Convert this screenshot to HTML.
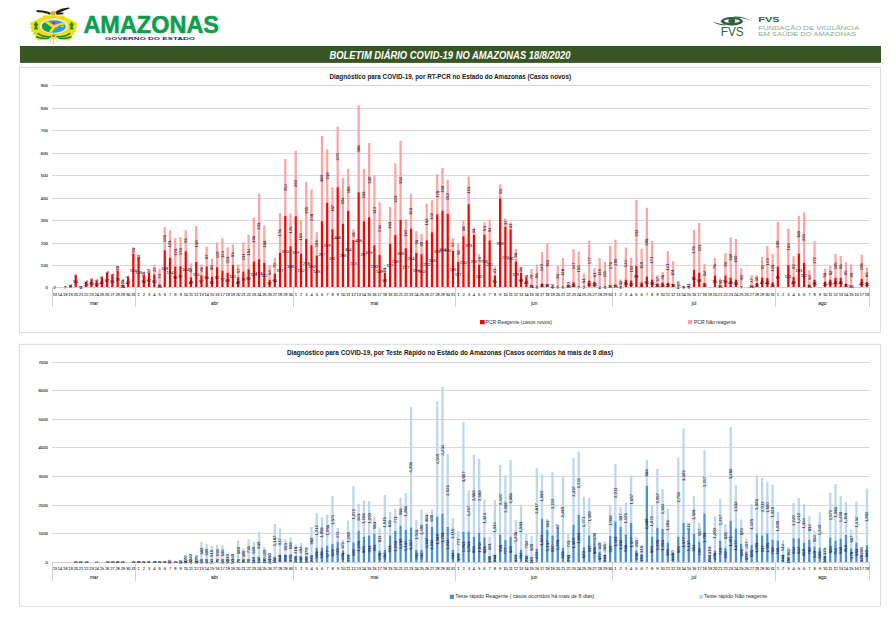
<!DOCTYPE html>
<html><head><meta charset="utf-8"><title>Boletim COVID-19 Amazonas</title>
<style>
html,body{margin:0;padding:0;background:#fff;}
body{width:894px;height:624px;overflow:hidden;position:relative;font-family:"Liberation Sans",sans-serif;}
svg{position:absolute;left:0;top:0;}
text{font-family:"Liberation Sans",sans-serif;}
.ax{font-size:4.3px;fill:#333;stroke:#333;stroke-width:0.12px;}
.dy{font-size:4.2px;fill:#1c1c24;stroke:#1c1c24;stroke-width:0.05px;letter-spacing:-0.25px;}
.dl{font-size:4.2px;fill:#14142a;stroke:#14142a;stroke-width:0.05px;}
.mo{font-size:4.8px;fill:#333;stroke:#333;stroke-width:0.08px;}
.ti{font-size:6.4px;font-weight:bold;fill:#1c1414;}
.lg{font-size:5px;fill:#303030;}
</style></head><body>
<svg width="894" height="624" viewBox="0 0 894 624">
<rect x="0" y="0" width="894" height="624" fill="#fff"/>
<!-- header -->
<g id="crest">
<!-- eagle -->
<path d="M36.4 10.3 C41 9.8 46.8 10.6 51 13 L50 14.8 C46 12.9 41 12.3 36.6 12z" fill="#2a1c0e"/>
<path d="M37.5 11.9 C42 12 46.5 12.8 49.8 14.6 L49.4 15 C46 13.4 41.5 12.6 37.5 12.4z" fill="#c8a02c"/>
<path d="M54.8 12.2 C59 9.2 64 8 69.4 7.6 L69.2 8.8 C65 10 61 11.8 57.4 14.2z" fill="#2a1c0e"/>
<path d="M56 13.2 L63.4 12.6 L63.2 14.2 L56.6 14.8z" fill="#2a1c0e"/>
<path d="M50.6 12.4 C51.6 10.6 54.6 10.4 55.8 12.4 L55.4 15.4 L51 15.4z" fill="#d4b02a"/>
<!-- yellow body -->
<path d="M43.4 15.6 L63.9 15.6 L65.2 17.4 L68.4 18 L69.4 19.6 L72.6 20.2 L73.6 21.4 L75.8 21.8 L77.4 23.9 L76 25.6 L77 27.4 L75.4 29 L76.2 31.4 L73.8 32.4 L74 34.6 L71.6 35.6 L72 38.2 L70 39.4 L67.4 40.8 L64.4 39.6 L61 39.4 L58 38.4 L55 37.6 L52.2 37.6 L49.2 38.4 L46.2 39.4 L42.8 39.6 L39.8 40.8 L37.2 39.4 L35.2 38.2 L35.6 35.6 L33.2 34.6 L33.4 32.4 L31 31.4 L31.8 29 L30.2 27.4 L31.2 25.6 L29.8 23.9 L31.4 21.8 L33.6 21.4 L34.6 20.2 L37.8 19.6 L38.8 18 L42 17.4z" fill="#f3de12"/>
<path d="M50.4 17.4 h5.8 v2.4 h-5.8z" fill="#e2c20a"/>
<path d="M53.6 36.5 L53.6 43.4 M53.3 37 L49.2 42 M53.9 37 L58 42" stroke="#f3de12" stroke-width="1.1" fill="none" stroke-linecap="round"/>
<!-- oval -->
<ellipse cx="53.95" cy="26" rx="14.2" ry="8" fill="#f2e9b0"/>
<ellipse cx="53.8" cy="26.5" rx="11.8" ry="6.2" fill="#3a96dc"/>
<clipPath id="ovc"><ellipse cx="53.8" cy="26.5" rx="11.8" ry="6.2"/></clipPath>
<g clip-path="url(#ovc)">
<path d="M40 18 L45 21 L53 26.6 L50 32 L40 34z" fill="#1b9a48"/>
<path d="M43 21 L45.6 19.8 L54 25.2 C57 23.8 60.5 22.6 65.4 22.4 L65.4 24.4 C61 24.6 58 26 55.2 27.8 L51.4 32.8 L48.8 32 L52 27.4z" fill="#f5e214"/>
<rect x="61" y="25.8" width="2.6" height="1.2" fill="#e3dc78"/>
</g>
<ellipse cx="53.7" cy="22.8" rx="1.8" ry="1.1" fill="#e32028"/>
<!-- side figures -->
<path d="M35 22 h1.8 v1.6 h1.2 v2 h-0.8 v2.2 h0.6 v1.8 h-3.6 v-1.8 h0.6 v-2.2 h-0.8 v-2 h1z" fill="#1f8a3c"/>
<path d="M70.6 22 h1.8 v1.6 h1.2 v2 h-0.8 v2.2 h0.6 v1.8 h-3.6 v-1.8 h0.6 v-2.2 h-0.8 v-2 h1z" fill="#1f8a3c"/>
<!-- laurels -->
<path d="M37.6 32.4 C41 35 46 36.2 51.2 36.2 L51 37.6 C45.5 37.8 40.5 36.6 37 34z" fill="#12883a"/>
<path d="M36.2 35.8 C40 37.6 44.6 38.2 49.4 37.8 L49 39 C44.4 39.6 39.8 39 36 37.2z" fill="#12883a"/>
<path d="M70 32.4 C66.6 35 61.6 36.2 56.4 36.2 L56.6 37.6 C62.1 37.8 67.1 36.6 70.6 34z" fill="#12883a"/>
<path d="M71.4 35.8 C67.6 37.6 63 38.2 58.2 37.8 L58.6 39 C63.2 39.6 67.8 39 71.6 37.2z" fill="#12883a"/>
<path d="M52.2 33.4 h3 v2 h-3z" fill="#e2c20a"/>
<ellipse cx="53.5" cy="36" rx="1.5" ry="0.8" fill="#e32028"/>
</g>

<text x="83.4" y="32.9" font-size="24.6" font-weight="bold" fill="#0b9e4f" stroke="#0b9e4f" stroke-width="0.55" textLength="135.6" lengthAdjust="spacingAndGlyphs">AMAZONAS</text>
<text x="105" y="40.2" font-size="4.3" font-weight="bold" fill="#1d2a6b" textLength="90" lengthAdjust="spacingAndGlyphs">GOVERNO DO ESTADO</text>
<g id="fvs">
<!-- eye -->
<path d="M712.3 21 C715 23.6 719.5 25.3 724.5 25.6 L727 24.6 C721 24.4 716 23.2 712.3 21z" fill="#2d6246"/>
<path d="M733 16.5 C740 16 747 17.6 751.4 21.3 C747.5 19.2 742.5 18 737.5 17.8z" fill="#2d6246"/>
<ellipse cx="731.9" cy="21.2" rx="11" ry="4.3" fill="#2d6246"/>
<path d="M723.8 21 C727 18.4 736.8 18.4 740.2 21 C736.8 23.8 727 23.8 723.8 21z" fill="#fff"/>
<ellipse cx="731.8" cy="21" rx="3.5" ry="2.9" fill="#2d6246"/>
<text x="720.8" y="35.8" font-size="12.2" fill="#2d6246" textLength="22.8" lengthAdjust="spacingAndGlyphs">FVS</text>
<text x="758.3" y="21.8" font-size="7" font-weight="bold" fill="#2d6246" textLength="21.2" lengthAdjust="spacingAndGlyphs">FVS</text>
<text x="758.3" y="29.8" font-size="6.2" fill="#8aa892" textLength="100.8" lengthAdjust="spacingAndGlyphs">FUNDAÇÃO DE VIGILÂNCIA</text>
<text x="758.3" y="36" font-size="6.2" fill="#8aa892" textLength="97.8" lengthAdjust="spacingAndGlyphs">EM SAÚDE DO AMAZONAS</text>
</g>

<rect x="20" y="46" width="861" height="16.9" fill="#375623"/>
<text x="329.5" y="58.6" font-size="10" font-weight="bold" font-style="italic" fill="#fff" textLength="241" lengthAdjust="spacingAndGlyphs">BOLETIM DIÁRIO COVID-19 NO AMAZONAS 18/8/2020</text>
<!-- chart boxes -->
<rect x="19.5" y="67.4" width="861" height="265" fill="#fff" stroke="#d9d9d9" stroke-width="0.9"/>
<rect x="19.5" y="344.3" width="861" height="261.9" fill="#fff" stroke="#d9d9d9" stroke-width="0.9"/>
<text x="329.5" y="78.7" class="ti" textLength="241.5" lengthAdjust="spacingAndGlyphs">Diagnóstico para COVID-19, por RT-PCR no Estado do Amazonas  (Casos novos)</text>
<text x="286.9" y="355.1" class="ti" textLength="326.2" lengthAdjust="spacingAndGlyphs">Diagnóstico para COVID-19, por  Teste Rápido no Estado do Amazonas (Casos ocorridos há mais de 8 dias)</text>
<!-- chart 1 -->
<line x1="52" x2="869.54" y1="265.5" y2="265.5" stroke="#d9d9d9" stroke-width="1"/>
<line x1="52" x2="869.54" y1="243.5" y2="243.5" stroke="#d9d9d9" stroke-width="1"/>
<line x1="52" x2="869.54" y1="220.5" y2="220.5" stroke="#d9d9d9" stroke-width="1"/>
<line x1="52" x2="869.54" y1="198.5" y2="198.5" stroke="#d9d9d9" stroke-width="1"/>
<line x1="52" x2="869.54" y1="175.5" y2="175.5" stroke="#d9d9d9" stroke-width="1"/>
<line x1="52" x2="869.54" y1="153.5" y2="153.5" stroke="#d9d9d9" stroke-width="1"/>
<line x1="52" x2="869.54" y1="130.5" y2="130.5" stroke="#d9d9d9" stroke-width="1"/>
<line x1="52" x2="869.54" y1="108.5" y2="108.5" stroke="#d9d9d9" stroke-width="1"/>
<line x1="52" x2="869.54" y1="85.5" y2="85.5" stroke="#d9d9d9" stroke-width="1"/>
<text x="48" y="288.75" text-anchor="end" class="ax">0</text>
<text x="48" y="266.75" text-anchor="end" class="ax">100</text>
<text x="48" y="244.75" text-anchor="end" class="ax">200</text>
<text x="48" y="221.75" text-anchor="end" class="ax">300</text>
<text x="48" y="199.75" text-anchor="end" class="ax">400</text>
<text x="48" y="176.75" text-anchor="end" class="ax">500</text>
<text x="48" y="154.75" text-anchor="end" class="ax">600</text>
<text x="48" y="131.75" text-anchor="end" class="ax">700</text>
<text x="48" y="109.75" text-anchor="end" class="ax">800</text>
<text x="48" y="86.75" text-anchor="end" class="ax">900</text>
<path d="M69.31 285.26h2.25v0.67h-2.25zM74.56 274.93h2.25v0.9h-2.25zM79.8 286.84h2.25v0.22h-2.25zM85.03 281h2.25v1.12h-2.25zM90.28 278.98h2.25v0.9h-2.25zM95.52 279.87h2.25v1.35h-2.25zM100.75 276.73h2.25v1.12h-2.25zM106 272.24h2.25v0.67h-2.25zM111.24 274.03h2.25v1.35h-2.25zM116.47 265.95h2.25v4.49h-2.25zM121.72 278.98h2.25v5.84h-2.25zM126.96 276.28h2.25v1.12h-2.25zM132.19 247.31h2.25v6.29h-2.25zM137.44 255.39h2.25v2.7h-2.25zM142.68 272.24h2.25v3.59h-2.25zM147.91 269.09h2.25v3.82h-2.25zM153.16 265.05h2.25v9.43h-2.25zM158.4 268.64h2.25v15.72h-2.25zM163.64 227.09h2.25v23.13h-2.25zM168.88 230.24h2.25v27.63h-2.25zM174.12 238.1h2.25v28.3h-2.25zM179.35 237.2h2.25v28.97h-2.25zM184.59 230.24h2.25v20.89h-2.25zM189.84 263.25h2.25v13.93h-2.25zM195.07 225.97h2.25v35.94h-2.25zM200.31 264.38h2.25v10.78h-2.25zM205.56 246.86h2.25v19.54h-2.25zM210.79 258.76h2.25v17.97h-2.25zM216.03 242.59h2.25v24.71h-2.25zM221.28 238.32h2.25v32.34h-2.25zM226.52 247.31h2.25v25.38h-2.25zM231.75 244.39h2.25v20.89h-2.25zM237 264.38h2.25v12.8h-2.25zM242.24 242.14h2.25v29.42h-2.25zM247.47 234.73h2.25v34.59h-2.25zM252.72 217.44h2.25v44.02h-2.25zM257.96 193.4h2.25v65.81h-2.25zM263.19 225.52h2.25v37.28h-2.25zM268.44 265.28h2.25v14.37h-2.25zM273.68 257.86h2.25v15.72h-2.25zM278.92 213.17h2.25v39.53h-2.25zM284.16 159.04h2.25v57.05h-2.25zM289.4 213.62h2.25v32.57h-2.25zM294.63 150.73h2.25v65.58h-2.25zM299.88 220.13h2.25v33.69h-2.25zM305.12 181.72h2.25v57.27h-2.25zM310.36 189.59h2.25v55.7h-2.25zM315.6 232.26h2.25v23.13h-2.25zM320.84 135.91h2.25v85.35h-2.25zM326.08 149.16h2.25v53.68h-2.25zM331.32 187.34h2.25v42h-2.25zM336.56 126.7h2.25v60.64h-2.25zM341.8 177.91h2.25v45.82h-2.25zM347.04 168.92h2.25v41.78h-2.25zM352.28 229.34h2.25v10.78h-2.25zM357.52 105.58h2.25v86.7h-2.25zM362.76 168.92h2.25v52.33h-2.25zM368 143.09h2.25v74.12h-2.25zM373.24 175.21h2.25v70.08h-2.25zM378.48 202.16h2.25v52.56h-2.25zM383.72 267.52h2.25v5.17h-2.25zM388.96 207.1h2.25v36.61h-2.25zM394.2 163.31h2.25v71.65h-2.25zM399.44 140.85h2.25v79.06h-2.25zM404.68 219.01h2.25v29.2h-2.25zM409.92 194.3h2.25v34.36h-2.25zM415.16 231.36h2.25v21.56h-2.25zM420.4 234.06h2.25v20.21h-2.25zM425.64 203.51h2.25v36.83h-2.25zM430.88 200.37h2.25v31.89h-2.25zM436.12 174.31h2.25v39.98h-2.25zM441.36 168.02h2.25v42.67h-2.25zM446.6 179.7h2.25v34.14h-2.25zM451.84 238.1h2.25v12.8h-2.25zM457.08 243.26h2.25v18.42h-2.25zM462.32 221.03h2.25v15.27h-2.25zM467.56 176.56h2.25v27.63h-2.25zM472.8 227.54h2.25v7.41h-2.25zM478.04 254.05h2.25v11.01h-2.25zM483.28 222.6h2.25v11.9h-2.25zM488.52 219.46h2.25v21.11h-2.25zM493.76 266.4h2.25v9.21h-2.25zM499 184.42h2.25v14.15h-2.25zM504.24 218.56h2.25v8.31h-2.25zM509.48 222.38h2.25v6.96h-2.25zM514.72 248.88h2.25v12.58h-2.25zM519.96 266.85h2.25v5.84h-2.25zM525.2 275.38h2.25v1.8h-2.25zM530.44 269.09h2.25v15.72h-2.25zM535.68 265.05h2.25v21.56h-2.25zM540.91 252.02h2.25v31.44h-2.25zM546.15 243.04h2.25v41.1h-2.25zM551.39 284.59h2.25v3.14h-2.25zM556.63 265.95h2.25v20.89h-2.25zM561.88 258.09h2.25v28.75h-2.25zM567.12 283.47h2.25v2.25h-2.25zM572.36 249.33h2.25v33.02h-2.25zM577.6 251.57h2.25v34.81h-2.25zM582.84 273.81h2.25v13.7h-2.25zM588.08 240.79h2.25v39.75h-2.25zM593.32 267.97h2.25v13.7h-2.25zM598.56 258.09h2.25v28.97h-2.25zM603.8 261.68h2.25v24.93h-2.25zM609.04 245.96h2.25v39.53h-2.25zM614.28 239.67h2.25v44.92h-2.25zM619.52 279.43h2.25v7.19h-2.25zM624.75 247.53h2.25v32.34h-2.25zM630 257.64h2.25v22.91h-2.25zM635.24 199.92h2.25v66.03h-2.25zM640.48 248.65h2.25v33.69h-2.25zM645.72 207.78h2.25v68.73h-2.25zM650.96 241.02h2.25v38.41h-2.25zM656.2 275.16h2.25v8.31h-2.25zM661.44 272.01h2.25v10.33h-2.25zM666.68 251.13h2.25v31.67h-2.25zM671.92 261.23h2.25v22.68h-2.25zM677.16 281h2.25v6.06h-2.25zM682.4 286.39h2.25v0.9h-2.25zM687.64 284.37h2.25v2.47h-2.25zM692.88 229.79h2.25v40.2h-2.25zM698.12 223.05h2.25v49.64h-2.25zM703.36 263.93h2.25v18.87h-2.25zM713.84 258.09h2.25v17.52h-2.25zM719.08 278.75h2.25v6.74h-2.25zM724.32 253.37h2.25v22.24h-2.25zM729.56 237.2h2.25v40.43h-2.25zM734.8 239h2.25v40.43h-2.25zM740.04 268.42h2.25v17.97h-2.25zM750.52 275.16h2.25v10.56h-2.25zM755.75 275.16h2.25v7.86h-2.25zM761 256.97h2.25v20.44h-2.25zM766.24 245.96h2.25v32.12h-2.25zM771.48 254.05h2.25v28.3h-2.25zM776.72 221.7h2.25v44.92h-2.25zM787.2 228.67h2.25v36.61h-2.25zM792.44 256.29h2.25v20.66h-2.25zM797.68 215.64h2.25v37.96h-2.25zM802.92 212.27h2.25v50.54h-2.25zM808.16 270.22h2.25v14.37h-2.25zM813.4 241.24h2.25v38.63h-2.25zM823.88 268.87h2.25v12.58h-2.25zM829.12 265.95h2.25v13.93h-2.25zM834.36 254.05h2.25v23.58h-2.25zM839.6 256.07h2.25v21.56h-2.25zM844.84 262.13h2.25v21.34h-2.25zM850.08 264.38h2.25v21.34h-2.25zM860.56 254.72h2.25v24.26h-2.25zM865.8 267.52h2.25v14.6h-2.25z" fill="#ffa3a3"/>
<path d="M53.59 287.51h2.25v0.45h-2.25zM64.08 286.39h2.25v1.57h-2.25zM69.31 285.94h2.25v2.02h-2.25zM74.56 275.83h2.25v12.13h-2.25zM79.8 287.06h2.25v0.9h-2.25zM85.03 282.12h2.25v5.84h-2.25zM90.28 279.87h2.25v8.09h-2.25zM95.52 281.22h2.25v6.74h-2.25zM100.75 277.85h2.25v10.11h-2.25zM106 272.91h2.25v15.05h-2.25zM111.24 275.38h2.25v12.58h-2.25zM116.47 270.44h2.25v17.52h-2.25zM121.72 284.82h2.25v3.14h-2.25zM126.96 277.4h2.25v10.56h-2.25zM132.19 253.6h2.25v34.36h-2.25zM137.44 258.09h2.25v29.87h-2.25zM142.68 275.83h2.25v12.13h-2.25zM147.91 272.91h2.25v15.05h-2.25zM153.16 274.48h2.25v13.48h-2.25zM158.4 284.37h2.25v3.59h-2.25zM163.64 250.23h2.25v37.73h-2.25zM168.88 257.86h2.25v30.1h-2.25zM174.12 266.4h2.25v21.56h-2.25zM179.35 266.17h2.25v21.79h-2.25zM184.59 251.13h2.25v36.83h-2.25zM189.84 277.18h2.25v10.78h-2.25zM195.07 261.91h2.25v26.05h-2.25zM200.31 275.16h2.25v12.8h-2.25zM205.56 266.4h2.25v21.56h-2.25zM210.79 276.73h2.25v11.23h-2.25zM216.03 267.3h2.25v20.66h-2.25zM221.28 270.67h2.25v17.29h-2.25zM226.52 272.69h2.25v15.27h-2.25zM231.75 265.28h2.25v22.68h-2.25zM237 277.18h2.25v10.78h-2.25zM242.24 271.56h2.25v16.4h-2.25zM247.47 269.32h2.25v18.64h-2.25zM252.72 261.46h2.25v26.5h-2.25zM257.96 259.21h2.25v28.75h-2.25zM263.19 262.8h2.25v25.16h-2.25zM268.44 279.65h2.25v8.31h-2.25zM273.68 273.59h2.25v14.37h-2.25zM278.92 252.7h2.25v35.26h-2.25zM284.16 216.09h2.25v71.87h-2.25zM289.4 246.18h2.25v41.78h-2.25zM294.63 216.31h2.25v71.65h-2.25zM299.88 253.82h2.25v34.14h-2.25zM305.12 239h2.25v48.96h-2.25zM310.36 245.29h2.25v42.67h-2.25zM315.6 255.39h2.25v32.57h-2.25zM320.84 221.25h2.25v66.71h-2.25zM326.08 202.84h2.25v85.12h-2.25zM331.32 229.34h2.25v58.62h-2.25zM336.56 187.34h2.25v100.62h-2.25zM341.8 223.72h2.25v64.24h-2.25zM347.04 210.7h2.25v77.26h-2.25zM352.28 240.12h2.25v47.84h-2.25zM357.52 192.28h2.25v95.68h-2.25zM362.76 221.25h2.25v66.71h-2.25zM368 217.21h2.25v70.75h-2.25zM373.24 245.29h2.25v42.67h-2.25zM378.48 254.72h2.25v33.24h-2.25zM383.72 272.69h2.25v15.27h-2.25zM388.96 243.71h2.25v44.25h-2.25zM394.2 234.95h2.25v53.01h-2.25zM399.44 219.91h2.25v68.05h-2.25zM404.68 248.21h2.25v39.75h-2.25zM409.92 228.67h2.25v59.29h-2.25zM415.16 252.92h2.25v35.04h-2.25zM420.4 254.27h2.25v33.69h-2.25zM425.64 240.34h2.25v47.62h-2.25zM430.88 232.26h2.25v55.7h-2.25zM436.12 214.29h2.25v73.67h-2.25zM441.36 210.7h2.25v77.26h-2.25zM446.6 213.84h2.25v74.12h-2.25zM451.84 250.9h2.25v37.06h-2.25zM457.08 261.68h2.25v26.28h-2.25zM462.32 236.3h2.25v51.66h-2.25zM467.56 204.18h2.25v83.78h-2.25zM472.8 234.95h2.25v53.01h-2.25zM478.04 265.05h2.25v22.91h-2.25zM483.28 234.51h2.25v53.45h-2.25zM488.52 240.57h2.25v47.39h-2.25zM493.76 275.61h2.25v12.35h-2.25zM499 198.57h2.25v89.39h-2.25zM504.24 226.87h2.25v61.09h-2.25zM509.48 229.34h2.25v58.62h-2.25zM514.72 261.46h2.25v26.5h-2.25zM519.96 272.69h2.25v15.27h-2.25zM525.2 277.18h2.25v10.78h-2.25zM530.44 284.82h2.25v3.14h-2.25zM535.68 286.61h2.25v1.35h-2.25zM540.91 283.47h2.25v4.49h-2.25zM546.15 284.14h2.25v3.82h-2.25zM551.39 287.74h2.25v0.22h-2.25zM556.63 286.84h2.25v1.12h-2.25zM561.88 286.84h2.25v1.12h-2.25zM567.12 285.71h2.25v2.25h-2.25zM572.36 282.34h2.25v5.62h-2.25zM577.6 286.39h2.25v1.57h-2.25zM582.84 287.51h2.25v0.45h-2.25zM588.08 280.55h2.25v7.41h-2.25zM593.32 281.67h2.25v6.29h-2.25zM598.56 287.06h2.25v0.9h-2.25zM603.8 286.61h2.25v1.35h-2.25zM609.04 285.49h2.25v2.47h-2.25zM614.28 284.59h2.25v3.37h-2.25zM619.52 286.61h2.25v1.35h-2.25zM624.75 279.87h2.25v8.09h-2.25zM630 280.55h2.25v7.41h-2.25zM635.24 265.95h2.25v22.01h-2.25zM640.48 282.34h2.25v5.62h-2.25zM645.72 276.51h2.25v11.45h-2.25zM650.96 279.43h2.25v8.53h-2.25zM656.2 283.47h2.25v4.49h-2.25zM661.44 282.34h2.25v5.62h-2.25zM666.68 282.79h2.25v5.17h-2.25zM671.92 283.92h2.25v4.04h-2.25zM677.16 287.06h2.25v0.9h-2.25zM682.4 287.29h2.25v0.67h-2.25zM687.64 286.84h2.25v1.12h-2.25zM692.88 269.99h2.25v17.97h-2.25zM698.12 272.69h2.25v15.27h-2.25zM703.36 282.79h2.25v5.17h-2.25zM713.84 275.61h2.25v12.35h-2.25zM719.08 285.49h2.25v2.47h-2.25zM724.32 275.61h2.25v12.35h-2.25zM729.56 277.63h2.25v10.33h-2.25zM734.8 279.43h2.25v8.53h-2.25zM740.04 286.39h2.25v1.57h-2.25zM750.52 285.71h2.25v2.25h-2.25zM755.75 283.02h2.25v4.94h-2.25zM761 277.4h2.25v10.56h-2.25zM766.24 278.08h2.25v9.88h-2.25zM771.48 282.34h2.25v5.62h-2.25zM776.72 266.62h2.25v21.34h-2.25zM787.2 265.28h2.25v22.68h-2.25zM792.44 276.95h2.25v11.01h-2.25zM797.68 253.6h2.25v34.36h-2.25zM802.92 262.8h2.25v25.16h-2.25zM808.16 284.59h2.25v3.37h-2.25zM813.4 279.87h2.25v8.09h-2.25zM823.88 281.45h2.25v6.51h-2.25zM829.12 279.87h2.25v8.09h-2.25zM834.36 277.63h2.25v10.33h-2.25zM839.6 277.63h2.25v10.33h-2.25zM844.84 283.47h2.25v4.49h-2.25zM850.08 285.71h2.25v2.25h-2.25zM860.56 278.98h2.25v8.98h-2.25zM865.8 282.12h2.25v5.84h-2.25z" fill="#ff0000"/>
<line x1="52" x2="869.54" y1="287.5" y2="287.5" stroke="#d0d0d0" stroke-width="1"/>
<text x="94.02" y="304.8" text-anchor="middle" class="mo">mar</text>
<text x="214.54" y="304.8" text-anchor="middle" class="mo">abr</text>
<text x="374.36" y="304.8" text-anchor="middle" class="mo">mai</text>
<text x="534.18" y="304.8" text-anchor="middle" class="mo">jun</text>
<text x="694" y="304.8" text-anchor="middle" class="mo">jul</text>
<text x="822.38" y="304.8" text-anchor="middle" class="mo">ago</text>
<line x1="52.5" x2="52.5" y1="287.5" y2="306.9" stroke="#d0d0d0" stroke-width="1"/>
<line x1="135.5" x2="135.5" y1="287.5" y2="306.9" stroke="#d0d0d0" stroke-width="1"/>
<line x1="293.5" x2="293.5" y1="287.5" y2="306.9" stroke="#d0d0d0" stroke-width="1"/>
<line x1="455.5" x2="455.5" y1="287.5" y2="306.9" stroke="#d0d0d0" stroke-width="1"/>
<line x1="612.5" x2="612.5" y1="287.5" y2="306.9" stroke="#d0d0d0" stroke-width="1"/>
<line x1="775.5" x2="775.5" y1="287.5" y2="306.9" stroke="#d0d0d0" stroke-width="1"/>
<line x1="869.5" x2="869.5" y1="287.5" y2="306.9" stroke="#d0d0d0" stroke-width="1"/>
<text x="54.72" y="295.65" text-anchor="middle" class="dy">13</text>
<text x="59.96" y="295.65" text-anchor="middle" class="dy">14</text>
<text x="65.2" y="295.65" text-anchor="middle" class="dy">18</text>
<text x="70.44" y="295.65" text-anchor="middle" class="dy">19</text>
<text x="75.68" y="295.65" text-anchor="middle" class="dy">20</text>
<text x="80.92" y="295.65" text-anchor="middle" class="dy">21</text>
<text x="86.16" y="295.65" text-anchor="middle" class="dy">22</text>
<text x="91.4" y="295.65" text-anchor="middle" class="dy">23</text>
<text x="96.64" y="295.65" text-anchor="middle" class="dy">24</text>
<text x="101.88" y="295.65" text-anchor="middle" class="dy">25</text>
<text x="107.12" y="295.65" text-anchor="middle" class="dy">26</text>
<text x="112.36" y="295.65" text-anchor="middle" class="dy">27</text>
<text x="117.6" y="295.65" text-anchor="middle" class="dy">28</text>
<text x="122.84" y="295.65" text-anchor="middle" class="dy">29</text>
<text x="128.08" y="295.65" text-anchor="middle" class="dy">30</text>
<text x="133.32" y="295.65" text-anchor="middle" class="dy">31</text>
<text x="138.56" y="295.65" text-anchor="middle" class="dy">1</text>
<text x="143.8" y="295.65" text-anchor="middle" class="dy">2</text>
<text x="149.04" y="295.65" text-anchor="middle" class="dy">3</text>
<text x="154.28" y="295.65" text-anchor="middle" class="dy">4</text>
<text x="159.52" y="295.65" text-anchor="middle" class="dy">5</text>
<text x="164.76" y="295.65" text-anchor="middle" class="dy">6</text>
<text x="170" y="295.65" text-anchor="middle" class="dy">7</text>
<text x="175.24" y="295.65" text-anchor="middle" class="dy">8</text>
<text x="180.48" y="295.65" text-anchor="middle" class="dy">9</text>
<text x="185.72" y="295.65" text-anchor="middle" class="dy">10</text>
<text x="190.96" y="295.65" text-anchor="middle" class="dy">11</text>
<text x="196.2" y="295.65" text-anchor="middle" class="dy">12</text>
<text x="201.44" y="295.65" text-anchor="middle" class="dy">13</text>
<text x="206.68" y="295.65" text-anchor="middle" class="dy">14</text>
<text x="211.92" y="295.65" text-anchor="middle" class="dy">15</text>
<text x="217.16" y="295.65" text-anchor="middle" class="dy">16</text>
<text x="222.4" y="295.65" text-anchor="middle" class="dy">17</text>
<text x="227.64" y="295.65" text-anchor="middle" class="dy">18</text>
<text x="232.88" y="295.65" text-anchor="middle" class="dy">19</text>
<text x="238.12" y="295.65" text-anchor="middle" class="dy">20</text>
<text x="243.36" y="295.65" text-anchor="middle" class="dy">21</text>
<text x="248.6" y="295.65" text-anchor="middle" class="dy">22</text>
<text x="253.84" y="295.65" text-anchor="middle" class="dy">23</text>
<text x="259.08" y="295.65" text-anchor="middle" class="dy">24</text>
<text x="264.32" y="295.65" text-anchor="middle" class="dy">25</text>
<text x="269.56" y="295.65" text-anchor="middle" class="dy">26</text>
<text x="274.8" y="295.65" text-anchor="middle" class="dy">27</text>
<text x="280.04" y="295.65" text-anchor="middle" class="dy">28</text>
<text x="285.28" y="295.65" text-anchor="middle" class="dy">29</text>
<text x="290.52" y="295.65" text-anchor="middle" class="dy">30</text>
<text x="295.76" y="295.65" text-anchor="middle" class="dy">1</text>
<text x="301" y="295.65" text-anchor="middle" class="dy">2</text>
<text x="306.24" y="295.65" text-anchor="middle" class="dy">3</text>
<text x="311.48" y="295.65" text-anchor="middle" class="dy">4</text>
<text x="316.72" y="295.65" text-anchor="middle" class="dy">5</text>
<text x="321.96" y="295.65" text-anchor="middle" class="dy">6</text>
<text x="327.2" y="295.65" text-anchor="middle" class="dy">7</text>
<text x="332.44" y="295.65" text-anchor="middle" class="dy">8</text>
<text x="337.68" y="295.65" text-anchor="middle" class="dy">9</text>
<text x="342.92" y="295.65" text-anchor="middle" class="dy">10</text>
<text x="348.16" y="295.65" text-anchor="middle" class="dy">11</text>
<text x="353.4" y="295.65" text-anchor="middle" class="dy">12</text>
<text x="358.64" y="295.65" text-anchor="middle" class="dy">13</text>
<text x="363.88" y="295.65" text-anchor="middle" class="dy">14</text>
<text x="369.12" y="295.65" text-anchor="middle" class="dy">15</text>
<text x="374.36" y="295.65" text-anchor="middle" class="dy">16</text>
<text x="379.6" y="295.65" text-anchor="middle" class="dy">17</text>
<text x="384.84" y="295.65" text-anchor="middle" class="dy">18</text>
<text x="390.08" y="295.65" text-anchor="middle" class="dy">19</text>
<text x="395.32" y="295.65" text-anchor="middle" class="dy">20</text>
<text x="400.56" y="295.65" text-anchor="middle" class="dy">21</text>
<text x="405.8" y="295.65" text-anchor="middle" class="dy">22</text>
<text x="411.04" y="295.65" text-anchor="middle" class="dy">23</text>
<text x="416.28" y="295.65" text-anchor="middle" class="dy">24</text>
<text x="421.52" y="295.65" text-anchor="middle" class="dy">25</text>
<text x="426.76" y="295.65" text-anchor="middle" class="dy">26</text>
<text x="432" y="295.65" text-anchor="middle" class="dy">27</text>
<text x="437.24" y="295.65" text-anchor="middle" class="dy">28</text>
<text x="442.48" y="295.65" text-anchor="middle" class="dy">29</text>
<text x="447.72" y="295.65" text-anchor="middle" class="dy">30</text>
<text x="452.96" y="295.65" text-anchor="middle" class="dy">31</text>
<text x="458.2" y="295.65" text-anchor="middle" class="dy">1</text>
<text x="463.44" y="295.65" text-anchor="middle" class="dy">2</text>
<text x="468.68" y="295.65" text-anchor="middle" class="dy">3</text>
<text x="473.92" y="295.65" text-anchor="middle" class="dy">4</text>
<text x="479.16" y="295.65" text-anchor="middle" class="dy">5</text>
<text x="484.4" y="295.65" text-anchor="middle" class="dy">6</text>
<text x="489.64" y="295.65" text-anchor="middle" class="dy">7</text>
<text x="494.88" y="295.65" text-anchor="middle" class="dy">8</text>
<text x="500.12" y="295.65" text-anchor="middle" class="dy">9</text>
<text x="505.36" y="295.65" text-anchor="middle" class="dy">10</text>
<text x="510.6" y="295.65" text-anchor="middle" class="dy">11</text>
<text x="515.84" y="295.65" text-anchor="middle" class="dy">12</text>
<text x="521.08" y="295.65" text-anchor="middle" class="dy">13</text>
<text x="526.32" y="295.65" text-anchor="middle" class="dy">14</text>
<text x="531.56" y="295.65" text-anchor="middle" class="dy">15</text>
<text x="536.8" y="295.65" text-anchor="middle" class="dy">16</text>
<text x="542.04" y="295.65" text-anchor="middle" class="dy">17</text>
<text x="547.28" y="295.65" text-anchor="middle" class="dy">18</text>
<text x="552.52" y="295.65" text-anchor="middle" class="dy">19</text>
<text x="557.76" y="295.65" text-anchor="middle" class="dy">20</text>
<text x="563" y="295.65" text-anchor="middle" class="dy">21</text>
<text x="568.24" y="295.65" text-anchor="middle" class="dy">22</text>
<text x="573.48" y="295.65" text-anchor="middle" class="dy">23</text>
<text x="578.72" y="295.65" text-anchor="middle" class="dy">24</text>
<text x="583.96" y="295.65" text-anchor="middle" class="dy">25</text>
<text x="589.2" y="295.65" text-anchor="middle" class="dy">26</text>
<text x="594.44" y="295.65" text-anchor="middle" class="dy">27</text>
<text x="599.68" y="295.65" text-anchor="middle" class="dy">28</text>
<text x="604.92" y="295.65" text-anchor="middle" class="dy">29</text>
<text x="610.16" y="295.65" text-anchor="middle" class="dy">30</text>
<text x="615.4" y="295.65" text-anchor="middle" class="dy">1</text>
<text x="620.64" y="295.65" text-anchor="middle" class="dy">2</text>
<text x="625.88" y="295.65" text-anchor="middle" class="dy">3</text>
<text x="631.12" y="295.65" text-anchor="middle" class="dy">4</text>
<text x="636.36" y="295.65" text-anchor="middle" class="dy">5</text>
<text x="641.6" y="295.65" text-anchor="middle" class="dy">6</text>
<text x="646.84" y="295.65" text-anchor="middle" class="dy">7</text>
<text x="652.08" y="295.65" text-anchor="middle" class="dy">8</text>
<text x="657.32" y="295.65" text-anchor="middle" class="dy">9</text>
<text x="662.56" y="295.65" text-anchor="middle" class="dy">10</text>
<text x="667.8" y="295.65" text-anchor="middle" class="dy">11</text>
<text x="673.04" y="295.65" text-anchor="middle" class="dy">12</text>
<text x="678.28" y="295.65" text-anchor="middle" class="dy">13</text>
<text x="683.52" y="295.65" text-anchor="middle" class="dy">14</text>
<text x="688.76" y="295.65" text-anchor="middle" class="dy">15</text>
<text x="694" y="295.65" text-anchor="middle" class="dy">16</text>
<text x="699.24" y="295.65" text-anchor="middle" class="dy">17</text>
<text x="704.48" y="295.65" text-anchor="middle" class="dy">18</text>
<text x="709.72" y="295.65" text-anchor="middle" class="dy">19</text>
<text x="714.96" y="295.65" text-anchor="middle" class="dy">20</text>
<text x="720.2" y="295.65" text-anchor="middle" class="dy">21</text>
<text x="725.44" y="295.65" text-anchor="middle" class="dy">22</text>
<text x="730.68" y="295.65" text-anchor="middle" class="dy">23</text>
<text x="735.92" y="295.65" text-anchor="middle" class="dy">24</text>
<text x="741.16" y="295.65" text-anchor="middle" class="dy">25</text>
<text x="746.4" y="295.65" text-anchor="middle" class="dy">26</text>
<text x="751.64" y="295.65" text-anchor="middle" class="dy">27</text>
<text x="756.88" y="295.65" text-anchor="middle" class="dy">28</text>
<text x="762.12" y="295.65" text-anchor="middle" class="dy">29</text>
<text x="767.36" y="295.65" text-anchor="middle" class="dy">30</text>
<text x="772.6" y="295.65" text-anchor="middle" class="dy">31</text>
<text x="777.84" y="295.65" text-anchor="middle" class="dy">1</text>
<text x="783.08" y="295.65" text-anchor="middle" class="dy">2</text>
<text x="788.32" y="295.65" text-anchor="middle" class="dy">3</text>
<text x="793.56" y="295.65" text-anchor="middle" class="dy">4</text>
<text x="798.8" y="295.65" text-anchor="middle" class="dy">5</text>
<text x="804.04" y="295.65" text-anchor="middle" class="dy">6</text>
<text x="809.28" y="295.65" text-anchor="middle" class="dy">7</text>
<text x="814.52" y="295.65" text-anchor="middle" class="dy">8</text>
<text x="819.76" y="295.65" text-anchor="middle" class="dy">9</text>
<text x="825" y="295.65" text-anchor="middle" class="dy">10</text>
<text x="830.24" y="295.65" text-anchor="middle" class="dy">11</text>
<text x="835.48" y="295.65" text-anchor="middle" class="dy">12</text>
<text x="840.72" y="295.65" text-anchor="middle" class="dy">13</text>
<text x="845.96" y="295.65" text-anchor="middle" class="dy">14</text>
<text x="851.2" y="295.65" text-anchor="middle" class="dy">15</text>
<text x="856.44" y="295.65" text-anchor="middle" class="dy">16</text>
<text x="861.68" y="295.65" text-anchor="middle" class="dy">17</text>
<text x="866.92" y="295.65" text-anchor="middle" class="dy">18</text>
<text x="54.72" y="289.14" text-anchor="middle" class="dl">2</text>
<text x="65.2" y="288.57" text-anchor="middle" class="dl">7</text>
<text x="70.44" y="288.35" text-anchor="middle" class="dl">9</text>
<text transform="translate(71.84 285.6) rotate(-90)" text-anchor="middle" class="dl">3</text>
<text x="75.68" y="283.3" text-anchor="middle" class="dl">54</text>
<text transform="translate(77.08 275.38) rotate(-90)" text-anchor="middle" class="dl">4</text>
<text x="80.92" y="288.91" text-anchor="middle" class="dl">4</text>
<text transform="translate(82.32 286.95) rotate(-90)" text-anchor="middle" class="dl">1</text>
<text x="86.16" y="286.44" text-anchor="middle" class="dl">26</text>
<text transform="translate(87.56 281.56) rotate(-90)" text-anchor="middle" class="dl">5</text>
<text x="91.4" y="285.32" text-anchor="middle" class="dl">36</text>
<text transform="translate(92.8 279.43) rotate(-90)" text-anchor="middle" class="dl">4</text>
<text x="96.64" y="285.99" text-anchor="middle" class="dl">30</text>
<text transform="translate(98.04 280.55) rotate(-90)" text-anchor="middle" class="dl">6</text>
<text x="101.88" y="284.31" text-anchor="middle" class="dl">45</text>
<text transform="translate(103.28 277.29) rotate(-90)" text-anchor="middle" class="dl">5</text>
<text x="107.12" y="281.84" text-anchor="middle" class="dl">67</text>
<text transform="translate(108.52 272.57) rotate(-90)" text-anchor="middle" class="dl">3</text>
<text x="112.36" y="283.07" text-anchor="middle" class="dl">56</text>
<text transform="translate(113.76 274.71) rotate(-90)" text-anchor="middle" class="dl">6</text>
<text x="117.6" y="280.6" text-anchor="middle" class="dl">78</text>
<text transform="translate(119 268.2) rotate(-90)" text-anchor="middle" class="dl">20</text>
<text x="122.84" y="287.79" text-anchor="middle" class="dl">14</text>
<text transform="translate(124.24 281.9) rotate(-90)" text-anchor="middle" class="dl">26</text>
<text x="128.08" y="284.08" text-anchor="middle" class="dl">47</text>
<text transform="translate(129.48 276.84) rotate(-90)" text-anchor="middle" class="dl">5</text>
<text x="133.32" y="272.18" text-anchor="middle" class="dl">153</text>
<text transform="translate(134.72 250.45) rotate(-90)" text-anchor="middle" class="dl">28</text>
<text x="138.56" y="274.42" text-anchor="middle" class="dl">133</text>
<text transform="translate(139.96 256.74) rotate(-90)" text-anchor="middle" class="dl">12</text>
<text x="143.8" y="283.3" text-anchor="middle" class="dl">54</text>
<text transform="translate(145.2 274.03) rotate(-90)" text-anchor="middle" class="dl">16</text>
<text x="149.04" y="281.84" text-anchor="middle" class="dl">67</text>
<text transform="translate(150.44 271) rotate(-90)" text-anchor="middle" class="dl">17</text>
<text x="154.28" y="282.62" text-anchor="middle" class="dl">60</text>
<text transform="translate(155.68 269.77) rotate(-90)" text-anchor="middle" class="dl">42</text>
<text x="159.52" y="287.56" text-anchor="middle" class="dl">16</text>
<text transform="translate(160.92 276.51) rotate(-90)" text-anchor="middle" class="dl">70</text>
<text x="164.76" y="270.49" text-anchor="middle" class="dl">168</text>
<text transform="translate(166.16 238.66) rotate(-90)" text-anchor="middle" class="dl">103</text>
<text x="170" y="274.31" text-anchor="middle" class="dl">134</text>
<text transform="translate(171.4 244.05) rotate(-90)" text-anchor="middle" class="dl">123</text>
<text x="175.24" y="278.58" text-anchor="middle" class="dl">96</text>
<text transform="translate(176.64 252.25) rotate(-90)" text-anchor="middle" class="dl">126</text>
<text x="180.48" y="278.47" text-anchor="middle" class="dl">97</text>
<text transform="translate(181.88 251.69) rotate(-90)" text-anchor="middle" class="dl">129</text>
<text x="185.72" y="270.94" text-anchor="middle" class="dl">164</text>
<text transform="translate(187.12 240.68) rotate(-90)" text-anchor="middle" class="dl">93</text>
<text x="190.96" y="283.97" text-anchor="middle" class="dl">48</text>
<text transform="translate(192.36 270.22) rotate(-90)" text-anchor="middle" class="dl">62</text>
<text x="196.2" y="276.33" text-anchor="middle" class="dl">116</text>
<text transform="translate(197.6 243.94) rotate(-90)" text-anchor="middle" class="dl">160</text>
<text x="201.44" y="282.96" text-anchor="middle" class="dl">57</text>
<text transform="translate(202.84 269.77) rotate(-90)" text-anchor="middle" class="dl">48</text>
<text x="206.68" y="278.58" text-anchor="middle" class="dl">96</text>
<text transform="translate(208.08 256.63) rotate(-90)" text-anchor="middle" class="dl">87</text>
<text x="211.92" y="283.74" text-anchor="middle" class="dl">50</text>
<text transform="translate(213.32 267.75) rotate(-90)" text-anchor="middle" class="dl">80</text>
<text x="217.16" y="279.03" text-anchor="middle" class="dl">92</text>
<text transform="translate(218.56 254.94) rotate(-90)" text-anchor="middle" class="dl">110</text>
<text x="222.4" y="280.71" text-anchor="middle" class="dl">77</text>
<text transform="translate(223.8 254.49) rotate(-90)" text-anchor="middle" class="dl">144</text>
<text x="227.64" y="281.72" text-anchor="middle" class="dl">68</text>
<text transform="translate(229.04 260) rotate(-90)" text-anchor="middle" class="dl">113</text>
<text x="232.88" y="278.02" text-anchor="middle" class="dl">101</text>
<text transform="translate(234.28 254.83) rotate(-90)" text-anchor="middle" class="dl">93</text>
<text x="238.12" y="283.97" text-anchor="middle" class="dl">48</text>
<text transform="translate(239.52 270.78) rotate(-90)" text-anchor="middle" class="dl">57</text>
<text x="243.36" y="281.16" text-anchor="middle" class="dl">73</text>
<text transform="translate(244.76 256.85) rotate(-90)" text-anchor="middle" class="dl">131</text>
<text x="248.6" y="280.04" text-anchor="middle" class="dl">83</text>
<text transform="translate(250 252.02) rotate(-90)" text-anchor="middle" class="dl">154</text>
<text x="253.84" y="276.11" text-anchor="middle" class="dl">118</text>
<text transform="translate(255.24 239.45) rotate(-90)" text-anchor="middle" class="dl">196</text>
<text x="259.08" y="274.99" text-anchor="middle" class="dl">128</text>
<text transform="translate(260.48 226.31) rotate(-90)" text-anchor="middle" class="dl">293</text>
<text x="264.32" y="276.78" text-anchor="middle" class="dl">112</text>
<text transform="translate(265.72 244.16) rotate(-90)" text-anchor="middle" class="dl">166</text>
<text x="269.56" y="285.2" text-anchor="middle" class="dl">37</text>
<text transform="translate(270.96 272.46) rotate(-90)" text-anchor="middle" class="dl">64</text>
<text x="274.8" y="282.17" text-anchor="middle" class="dl">64</text>
<text transform="translate(276.2 265.72) rotate(-90)" text-anchor="middle" class="dl">70</text>
<text x="280.04" y="271.73" text-anchor="middle" class="dl">157</text>
<text transform="translate(281.44 232.93) rotate(-90)" text-anchor="middle" class="dl">176</text>
<text x="285.28" y="253.42" text-anchor="middle" class="dl">320</text>
<text transform="translate(286.68 187.56) rotate(-90)" text-anchor="middle" class="dl">254</text>
<text x="290.52" y="268.47" text-anchor="middle" class="dl">186</text>
<text transform="translate(291.92 229.9) rotate(-90)" text-anchor="middle" class="dl">145</text>
<text x="295.76" y="253.54" text-anchor="middle" class="dl">319</text>
<text transform="translate(297.16 183.52) rotate(-90)" text-anchor="middle" class="dl">292</text>
<text x="301" y="272.29" text-anchor="middle" class="dl">152</text>
<text transform="translate(302.4 236.98) rotate(-90)" text-anchor="middle" class="dl">150</text>
<text x="306.24" y="264.88" text-anchor="middle" class="dl">218</text>
<text transform="translate(307.64 210.36) rotate(-90)" text-anchor="middle" class="dl">255</text>
<text x="311.48" y="268.02" text-anchor="middle" class="dl">190</text>
<text transform="translate(312.88 217.44) rotate(-90)" text-anchor="middle" class="dl">248</text>
<text x="316.72" y="273.08" text-anchor="middle" class="dl">145</text>
<text transform="translate(318.12 243.83) rotate(-90)" text-anchor="middle" class="dl">103</text>
<text x="321.96" y="256.01" text-anchor="middle" class="dl">297</text>
<text transform="translate(323.36 178.58) rotate(-90)" text-anchor="middle" class="dl">380</text>
<text x="327.2" y="246.8" text-anchor="middle" class="dl">379</text>
<text transform="translate(328.6 176) rotate(-90)" text-anchor="middle" class="dl">239</text>
<text x="332.44" y="260.05" text-anchor="middle" class="dl">261</text>
<text transform="translate(333.84 208.34) rotate(-90)" text-anchor="middle" class="dl">187</text>
<text x="337.68" y="239.05" text-anchor="middle" class="dl">448</text>
<text transform="translate(339.08 157.02) rotate(-90)" text-anchor="middle" class="dl">270</text>
<text x="342.92" y="257.24" text-anchor="middle" class="dl">286</text>
<text transform="translate(344.32 200.82) rotate(-90)" text-anchor="middle" class="dl">204</text>
<text x="348.16" y="250.73" text-anchor="middle" class="dl">344</text>
<text transform="translate(349.56 189.81) rotate(-90)" text-anchor="middle" class="dl">186</text>
<text x="353.4" y="265.44" text-anchor="middle" class="dl">213</text>
<text transform="translate(354.8 234.73) rotate(-90)" text-anchor="middle" class="dl">48</text>
<text x="358.64" y="241.52" text-anchor="middle" class="dl">426</text>
<text transform="translate(360.04 148.93) rotate(-90)" text-anchor="middle" class="dl">386</text>
<text x="363.88" y="256.01" text-anchor="middle" class="dl">297</text>
<text transform="translate(365.28 195.09) rotate(-90)" text-anchor="middle" class="dl">233</text>
<text x="369.12" y="253.99" text-anchor="middle" class="dl">315</text>
<text transform="translate(370.52 180.15) rotate(-90)" text-anchor="middle" class="dl">330</text>
<text x="374.36" y="268.02" text-anchor="middle" class="dl">190</text>
<text transform="translate(375.76 210.25) rotate(-90)" text-anchor="middle" class="dl">312</text>
<text x="379.6" y="272.74" text-anchor="middle" class="dl">148</text>
<text transform="translate(381 228.44) rotate(-90)" text-anchor="middle" class="dl">234</text>
<text x="384.84" y="281.72" text-anchor="middle" class="dl">68</text>
<text transform="translate(386.24 270.1) rotate(-90)" text-anchor="middle" class="dl">23</text>
<text x="390.08" y="267.24" text-anchor="middle" class="dl">197</text>
<text transform="translate(391.48 225.41) rotate(-90)" text-anchor="middle" class="dl">163</text>
<text x="395.32" y="262.86" text-anchor="middle" class="dl">236</text>
<text transform="translate(396.72 199.13) rotate(-90)" text-anchor="middle" class="dl">319</text>
<text x="400.56" y="255.33" text-anchor="middle" class="dl">303</text>
<text transform="translate(401.96 180.38) rotate(-90)" text-anchor="middle" class="dl">352</text>
<text x="405.8" y="269.48" text-anchor="middle" class="dl">177</text>
<text transform="translate(407.2 233.61) rotate(-90)" text-anchor="middle" class="dl">130</text>
<text x="411.04" y="259.71" text-anchor="middle" class="dl">264</text>
<text transform="translate(412.44 211.48) rotate(-90)" text-anchor="middle" class="dl">153</text>
<text x="416.28" y="271.84" text-anchor="middle" class="dl">156</text>
<text transform="translate(417.68 242.14) rotate(-90)" text-anchor="middle" class="dl">96</text>
<text x="421.52" y="272.51" text-anchor="middle" class="dl">150</text>
<text transform="translate(422.92 244.16) rotate(-90)" text-anchor="middle" class="dl">90</text>
<text x="426.76" y="265.55" text-anchor="middle" class="dl">212</text>
<text transform="translate(428.16 221.93) rotate(-90)" text-anchor="middle" class="dl">164</text>
<text x="432" y="261.51" text-anchor="middle" class="dl">248</text>
<text transform="translate(433.4 216.31) rotate(-90)" text-anchor="middle" class="dl">142</text>
<text x="437.24" y="252.53" text-anchor="middle" class="dl">328</text>
<text transform="translate(438.64 194.3) rotate(-90)" text-anchor="middle" class="dl">178</text>
<text x="442.48" y="250.73" text-anchor="middle" class="dl">344</text>
<text transform="translate(443.88 189.36) rotate(-90)" text-anchor="middle" class="dl">190</text>
<text x="447.72" y="252.3" text-anchor="middle" class="dl">330</text>
<text transform="translate(449.12 196.77) rotate(-90)" text-anchor="middle" class="dl">152</text>
<text x="452.96" y="270.83" text-anchor="middle" class="dl">165</text>
<text transform="translate(454.36 244.5) rotate(-90)" text-anchor="middle" class="dl">57</text>
<text x="458.2" y="276.22" text-anchor="middle" class="dl">117</text>
<text transform="translate(459.6 252.47) rotate(-90)" text-anchor="middle" class="dl">82</text>
<text x="463.44" y="263.53" text-anchor="middle" class="dl">230</text>
<text transform="translate(464.84 228.67) rotate(-90)" text-anchor="middle" class="dl">68</text>
<text x="468.68" y="247.47" text-anchor="middle" class="dl">373</text>
<text transform="translate(470.08 190.37) rotate(-90)" text-anchor="middle" class="dl">123</text>
<text x="473.92" y="262.86" text-anchor="middle" class="dl">236</text>
<text transform="translate(475.32 231.25) rotate(-90)" text-anchor="middle" class="dl">33</text>
<text x="479.16" y="277.91" text-anchor="middle" class="dl">102</text>
<text transform="translate(480.56 259.55) rotate(-90)" text-anchor="middle" class="dl">49</text>
<text x="484.4" y="262.63" text-anchor="middle" class="dl">238</text>
<text transform="translate(485.8 228.55) rotate(-90)" text-anchor="middle" class="dl">53</text>
<text x="489.64" y="265.66" text-anchor="middle" class="dl">211</text>
<text transform="translate(491.04 230.01) rotate(-90)" text-anchor="middle" class="dl">94</text>
<text x="494.88" y="283.18" text-anchor="middle" class="dl">55</text>
<text transform="translate(496.28 271) rotate(-90)" text-anchor="middle" class="dl">41</text>
<text x="500.12" y="244.66" text-anchor="middle" class="dl">398</text>
<text transform="translate(501.52 191.49) rotate(-90)" text-anchor="middle" class="dl">63</text>
<text x="505.36" y="258.81" text-anchor="middle" class="dl">272</text>
<text transform="translate(506.76 222.71) rotate(-90)" text-anchor="middle" class="dl">37</text>
<text x="510.6" y="260.05" text-anchor="middle" class="dl">261</text>
<text transform="translate(512 225.86) rotate(-90)" text-anchor="middle" class="dl">31</text>
<text x="515.84" y="276.11" text-anchor="middle" class="dl">118</text>
<text transform="translate(517.24 255.17) rotate(-90)" text-anchor="middle" class="dl">56</text>
<text x="521.08" y="281.72" text-anchor="middle" class="dl">68</text>
<text transform="translate(522.48 269.77) rotate(-90)" text-anchor="middle" class="dl">26</text>
<text x="526.32" y="283.97" text-anchor="middle" class="dl">48</text>
<text transform="translate(527.72 276.28) rotate(-90)" text-anchor="middle" class="dl">8</text>
<text x="531.56" y="287.79" text-anchor="middle" class="dl">14</text>
<text transform="translate(532.96 276.95) rotate(-90)" text-anchor="middle" class="dl">70</text>
<text x="536.8" y="288.69" text-anchor="middle" class="dl">6</text>
<text transform="translate(538.2 275.83) rotate(-90)" text-anchor="middle" class="dl">96</text>
<text x="542.04" y="287.11" text-anchor="middle" class="dl">20</text>
<text transform="translate(543.44 267.75) rotate(-90)" text-anchor="middle" class="dl">140</text>
<text x="547.28" y="287.45" text-anchor="middle" class="dl">17</text>
<text transform="translate(548.68 263.59) rotate(-90)" text-anchor="middle" class="dl">183</text>
<text x="552.52" y="289.25" text-anchor="middle" class="dl">1</text>
<text transform="translate(553.92 286.16) rotate(-90)" text-anchor="middle" class="dl">14</text>
<text x="557.76" y="288.8" text-anchor="middle" class="dl">5</text>
<text transform="translate(559.16 276.39) rotate(-90)" text-anchor="middle" class="dl">93</text>
<text x="563" y="288.8" text-anchor="middle" class="dl">5</text>
<text transform="translate(564.4 272.46) rotate(-90)" text-anchor="middle" class="dl">128</text>
<text x="568.24" y="288.24" text-anchor="middle" class="dl">10</text>
<text transform="translate(569.64 284.59) rotate(-90)" text-anchor="middle" class="dl">10</text>
<text x="573.48" y="286.55" text-anchor="middle" class="dl">25</text>
<text transform="translate(574.88 265.84) rotate(-90)" text-anchor="middle" class="dl">147</text>
<text x="578.72" y="288.57" text-anchor="middle" class="dl">7</text>
<text transform="translate(580.12 268.98) rotate(-90)" text-anchor="middle" class="dl">155</text>
<text x="583.96" y="289.14" text-anchor="middle" class="dl">2</text>
<text transform="translate(585.36 280.66) rotate(-90)" text-anchor="middle" class="dl">61</text>
<text x="589.2" y="285.65" text-anchor="middle" class="dl">33</text>
<text transform="translate(590.6 260.67) rotate(-90)" text-anchor="middle" class="dl">177</text>
<text x="594.44" y="286.22" text-anchor="middle" class="dl">28</text>
<text transform="translate(595.84 274.82) rotate(-90)" text-anchor="middle" class="dl">61</text>
<text x="599.68" y="288.91" text-anchor="middle" class="dl">4</text>
<text transform="translate(601.08 272.57) rotate(-90)" text-anchor="middle" class="dl">129</text>
<text x="604.92" y="288.69" text-anchor="middle" class="dl">6</text>
<text transform="translate(606.32 274.15) rotate(-90)" text-anchor="middle" class="dl">111</text>
<text x="610.16" y="288.12" text-anchor="middle" class="dl">11</text>
<text transform="translate(611.56 265.72) rotate(-90)" text-anchor="middle" class="dl">176</text>
<text x="615.4" y="287.68" text-anchor="middle" class="dl">15</text>
<text transform="translate(616.8 262.13) rotate(-90)" text-anchor="middle" class="dl">200</text>
<text x="620.64" y="288.69" text-anchor="middle" class="dl">6</text>
<text transform="translate(622.04 283.02) rotate(-90)" text-anchor="middle" class="dl">32</text>
<text x="625.88" y="285.32" text-anchor="middle" class="dl">36</text>
<text transform="translate(627.28 263.7) rotate(-90)" text-anchor="middle" class="dl">144</text>
<text x="631.12" y="285.65" text-anchor="middle" class="dl">33</text>
<text transform="translate(632.52 269.09) rotate(-90)" text-anchor="middle" class="dl">102</text>
<text x="636.36" y="278.35" text-anchor="middle" class="dl">98</text>
<text transform="translate(637.76 232.93) rotate(-90)" text-anchor="middle" class="dl">294</text>
<text x="641.6" y="286.55" text-anchor="middle" class="dl">25</text>
<text transform="translate(643 265.5) rotate(-90)" text-anchor="middle" class="dl">150</text>
<text x="646.84" y="283.63" text-anchor="middle" class="dl">51</text>
<text transform="translate(648.24 242.14) rotate(-90)" text-anchor="middle" class="dl">306</text>
<text x="652.08" y="285.09" text-anchor="middle" class="dl">38</text>
<text transform="translate(653.48 260.22) rotate(-90)" text-anchor="middle" class="dl">171</text>
<text x="657.32" y="287.11" text-anchor="middle" class="dl">20</text>
<text transform="translate(658.72 279.31) rotate(-90)" text-anchor="middle" class="dl">37</text>
<text x="662.56" y="286.55" text-anchor="middle" class="dl">25</text>
<text transform="translate(663.96 277.18) rotate(-90)" text-anchor="middle" class="dl">46</text>
<text x="667.8" y="286.78" text-anchor="middle" class="dl">23</text>
<text transform="translate(669.2 266.96) rotate(-90)" text-anchor="middle" class="dl">141</text>
<text x="673.04" y="287.34" text-anchor="middle" class="dl">18</text>
<text transform="translate(674.44 272.57) rotate(-90)" text-anchor="middle" class="dl">101</text>
<text x="678.28" y="288.91" text-anchor="middle" class="dl">4</text>
<text transform="translate(679.68 284.03) rotate(-90)" text-anchor="middle" class="dl">27</text>
<text x="683.52" y="289.02" text-anchor="middle" class="dl">3</text>
<text transform="translate(684.92 286.84) rotate(-90)" text-anchor="middle" class="dl">4</text>
<text x="688.76" y="288.8" text-anchor="middle" class="dl">5</text>
<text transform="translate(690.16 285.6) rotate(-90)" text-anchor="middle" class="dl">11</text>
<text x="694" y="280.38" text-anchor="middle" class="dl">80</text>
<text transform="translate(695.4 249.89) rotate(-90)" text-anchor="middle" class="dl">179</text>
<text x="699.24" y="281.72" text-anchor="middle" class="dl">68</text>
<text transform="translate(700.64 247.87) rotate(-90)" text-anchor="middle" class="dl">221</text>
<text x="704.48" y="286.78" text-anchor="middle" class="dl">23</text>
<text transform="translate(705.88 273.36) rotate(-90)" text-anchor="middle" class="dl">84</text>
<text x="714.96" y="283.18" text-anchor="middle" class="dl">55</text>
<text transform="translate(716.36 266.85) rotate(-90)" text-anchor="middle" class="dl">78</text>
<text x="720.2" y="288.12" text-anchor="middle" class="dl">11</text>
<text transform="translate(721.6 282.12) rotate(-90)" text-anchor="middle" class="dl">30</text>
<text x="725.44" y="283.18" text-anchor="middle" class="dl">55</text>
<text transform="translate(726.84 264.49) rotate(-90)" text-anchor="middle" class="dl">99</text>
<text x="730.68" y="284.19" text-anchor="middle" class="dl">46</text>
<text transform="translate(732.08 257.41) rotate(-90)" text-anchor="middle" class="dl">180</text>
<text x="735.92" y="285.09" text-anchor="middle" class="dl">38</text>
<text transform="translate(737.32 259.21) rotate(-90)" text-anchor="middle" class="dl">180</text>
<text x="741.16" y="288.57" text-anchor="middle" class="dl">7</text>
<text transform="translate(742.56 277.4) rotate(-90)" text-anchor="middle" class="dl">80</text>
<text x="751.64" y="288.24" text-anchor="middle" class="dl">10</text>
<text transform="translate(753.04 280.44) rotate(-90)" text-anchor="middle" class="dl">47</text>
<text x="756.88" y="286.89" text-anchor="middle" class="dl">22</text>
<text transform="translate(758.28 279.09) rotate(-90)" text-anchor="middle" class="dl">35</text>
<text x="762.12" y="284.08" text-anchor="middle" class="dl">47</text>
<text transform="translate(763.52 267.18) rotate(-90)" text-anchor="middle" class="dl">91</text>
<text x="767.36" y="284.42" text-anchor="middle" class="dl">44</text>
<text transform="translate(768.76 262.02) rotate(-90)" text-anchor="middle" class="dl">143</text>
<text x="772.6" y="286.55" text-anchor="middle" class="dl">25</text>
<text transform="translate(774 268.2) rotate(-90)" text-anchor="middle" class="dl">126</text>
<text x="777.84" y="278.69" text-anchor="middle" class="dl">95</text>
<text transform="translate(779.24 244.16) rotate(-90)" text-anchor="middle" class="dl">200</text>
<text x="788.32" y="278.02" text-anchor="middle" class="dl">101</text>
<text transform="translate(789.72 246.97) rotate(-90)" text-anchor="middle" class="dl">163</text>
<text x="793.56" y="283.86" text-anchor="middle" class="dl">49</text>
<text transform="translate(794.96 266.62) rotate(-90)" text-anchor="middle" class="dl">92</text>
<text x="798.8" y="272.18" text-anchor="middle" class="dl">153</text>
<text transform="translate(800.2 234.62) rotate(-90)" text-anchor="middle" class="dl">169</text>
<text x="804.04" y="276.78" text-anchor="middle" class="dl">112</text>
<text transform="translate(805.44 237.54) rotate(-90)" text-anchor="middle" class="dl">225</text>
<text x="809.28" y="287.68" text-anchor="middle" class="dl">15</text>
<text transform="translate(810.68 277.4) rotate(-90)" text-anchor="middle" class="dl">64</text>
<text x="814.52" y="285.32" text-anchor="middle" class="dl">36</text>
<text transform="translate(815.92 260.56) rotate(-90)" text-anchor="middle" class="dl">172</text>
<text x="825" y="286.1" text-anchor="middle" class="dl">29</text>
<text transform="translate(826.4 275.16) rotate(-90)" text-anchor="middle" class="dl">56</text>
<text x="830.24" y="285.32" text-anchor="middle" class="dl">36</text>
<text transform="translate(831.64 272.91) rotate(-90)" text-anchor="middle" class="dl">62</text>
<text x="835.48" y="284.19" text-anchor="middle" class="dl">46</text>
<text transform="translate(836.88 265.84) rotate(-90)" text-anchor="middle" class="dl">105</text>
<text x="840.72" y="284.19" text-anchor="middle" class="dl">46</text>
<text transform="translate(842.12 266.85) rotate(-90)" text-anchor="middle" class="dl">96</text>
<text x="845.96" y="287.11" text-anchor="middle" class="dl">20</text>
<text transform="translate(847.36 272.8) rotate(-90)" text-anchor="middle" class="dl">95</text>
<text x="851.2" y="288.24" text-anchor="middle" class="dl">10</text>
<text transform="translate(852.6 275.05) rotate(-90)" text-anchor="middle" class="dl">95</text>
<text x="861.68" y="284.87" text-anchor="middle" class="dl">40</text>
<text transform="translate(863.08 266.85) rotate(-90)" text-anchor="middle" class="dl">108</text>
<text x="866.92" y="286.44" text-anchor="middle" class="dl">26</text>
<text transform="translate(868.32 274.82) rotate(-90)" text-anchor="middle" class="dl">65</text>
<rect x="480" y="320" width="4.6" height="4.2" fill="#ff0000"/>
<text x="485.6" y="323.8" class="lg" textLength="66.4" lengthAdjust="spacingAndGlyphs">PCR Reagente (casos novos)</text>
<rect x="688" y="320" width="4.2" height="4.2" fill="#ffa3a3"/>
<text x="694" y="323.8" class="lg" textLength="42" lengthAdjust="spacingAndGlyphs">PCR Não reagente</text>
<!-- chart 2 -->
<line x1="52" x2="869.54" y1="533.5" y2="533.5" stroke="#d9d9d9" stroke-width="1"/>
<line x1="52" x2="869.54" y1="505.5" y2="505.5" stroke="#d9d9d9" stroke-width="1"/>
<line x1="52" x2="869.54" y1="476.5" y2="476.5" stroke="#d9d9d9" stroke-width="1"/>
<line x1="52" x2="869.54" y1="447.5" y2="447.5" stroke="#d9d9d9" stroke-width="1"/>
<line x1="52" x2="869.54" y1="419.5" y2="419.5" stroke="#d9d9d9" stroke-width="1"/>
<line x1="52" x2="869.54" y1="390.5" y2="390.5" stroke="#d9d9d9" stroke-width="1"/>
<line x1="52" x2="869.54" y1="362.5" y2="362.5" stroke="#d9d9d9" stroke-width="1"/>
<text x="48" y="563.75" text-anchor="end" class="ax">0</text>
<text x="48" y="534.75" text-anchor="end" class="ax">1000</text>
<text x="48" y="506.75" text-anchor="end" class="ax">2000</text>
<text x="48" y="477.75" text-anchor="end" class="ax">3000</text>
<text x="48" y="448.75" text-anchor="end" class="ax">4000</text>
<text x="48" y="420.75" text-anchor="end" class="ax">5000</text>
<text x="48" y="391.75" text-anchor="end" class="ax">6000</text>
<text x="48" y="363.75" text-anchor="end" class="ax">7000</text>
<path d="M116.47 562.11h2.25v0.06h-2.25zM137.44 562.06h2.25v0.09h-2.25zM142.68 562.03h2.25v0.11h-2.25zM147.91 562.03h2.25v0.11h-2.25zM153.16 562.09h2.25v0.09h-2.25zM158.4 562.03h2.25v0.11h-2.25zM163.64 562.03h2.25v0.11h-2.25zM168.88 561.86h2.25v0.29h-2.25zM174.12 562.11h2.25v0.06h-2.25zM179.35 561.8h2.25v0.34h-2.25zM184.59 556.49h2.25v4.86h-2.25zM189.84 554.2h2.25v6.86h-2.25zM195.07 556.49h2.25v4.86h-2.25zM200.31 541.63h2.25v18.86h-2.25zM205.56 543.63h2.25v16.86h-2.25zM210.79 546.06h2.25v14.71h-2.25zM216.03 544.92h2.25v15.28h-2.25zM221.28 545.2h2.25v15.28h-2.25zM226.52 554.77h2.25v6h-2.25zM231.75 553.91h2.25v6.86h-2.25zM237 540.77h2.25v19.43h-2.25zM242.24 548.49h2.25v11.14h-2.25zM247.47 539.2h2.25v21h-2.25zM252.72 541.92h2.25v16.86h-2.25zM257.96 531.92h2.25v26.57h-2.25zM263.19 547.06h2.25v12h-2.25zM268.44 553.06h2.25v7.43h-2.25zM273.68 524h2.25v33.91h-2.25zM278.92 528.57h2.25v26.2h-2.25zM284.16 538.69h2.25v16.08h-2.25zM289.4 537.23h2.25v17.11h-2.25zM294.63 544.4h2.25v11.94h-2.25zM299.88 542.94h2.25v14.11h-2.25zM305.12 546.49h2.25v10.57h-2.25zM310.36 526.94h2.25v28.26h-2.25zM315.6 513.06h2.25v34.63h-2.25zM320.84 517.46h2.25v30.23h-2.25zM326.08 514.69h2.25v31.03h-2.25zM331.32 495.92h2.25v47.83h-2.25zM336.56 528.09h2.25v13.54h-2.25zM341.8 540h2.25v10.6h-2.25zM347.04 520.4h2.25v33.97h-2.25zM352.28 486.12h2.25v56.34h-2.25zM357.52 503.75h2.25v26.94h-2.25zM362.76 500.8h2.25v35.94h-2.25zM368 501.32h2.25v34.28h-2.25zM373.24 517.15h2.25v16.66h-2.25zM378.48 527.43h2.25v23.17h-2.25zM383.72 495.09h2.25v54.71h-2.25zM388.96 511.75h2.25v23.86h-2.25zM394.2 508.66h2.25v22.03h-2.25zM399.44 498.03h2.25v27.6h-2.25zM404.68 492.97h2.25v36.74h-2.25zM409.92 407.26h2.25v120.17h-2.25zM415.16 519.92h2.25v29.88h-2.25zM420.4 509.8h2.25v40h-2.25zM425.64 513.06h2.25v10.94h-2.25zM430.88 509.8h2.25v17.14h-2.25zM436.12 401.24h2.25v115.57h-2.25zM441.36 386.87h2.25v126.68h-2.25zM446.6 454.29h2.25v72.65h-2.25zM451.84 517.95h2.25v31.86h-2.25zM457.08 531.03h2.25v22.03h-2.25zM462.32 421.64h2.25v110.19h-2.25zM467.56 490.2h2.25v41.63h-2.25zM472.8 454.78h2.25v81.97h-2.25zM478.04 458.69h2.25v73.97h-2.25zM483.28 499.17h2.25v38.37h-2.25zM488.52 536.74h2.25v19.74h-2.25zM493.76 500h2.25v54.68h-2.25zM499 464.89h2.25v69.71h-2.25zM504.24 475.18h2.25v64.83h-2.25zM509.48 460.01h2.25v76.74h-2.25zM514.72 519.92h2.25v34.46h-2.25zM519.96 504.57h2.25v45.23h-2.25zM525.2 533.8h2.25v21.71h-2.25zM530.44 535.92h2.25v22.86h-2.25zM535.68 468.18h2.25v80.48h-2.25zM540.91 474.2h2.25v44.57h-2.25zM546.15 518.77h2.25v10.94h-2.25zM551.39 472.23h2.25v63.2h-2.25zM556.63 524.97h2.25v2.77h-2.25zM561.88 476.8h2.25v70.85h-2.25zM567.12 533.46h2.25v21.23h-2.25zM572.36 458.03h2.25v66.77h-2.25zM577.6 451.52h2.25v63.17h-2.25zM582.84 496.75h2.25v50.6h-2.25zM588.08 498.03h2.25v37.4h-2.25zM593.32 533.46h2.25v5.71h-2.25zM598.56 541.14h2.25v10.29h-2.25zM603.8 541.32h2.25v13.37h-2.25zM609.04 505.37h2.25v30.54h-2.25zM614.28 464.09h2.25v57.45h-2.25zM619.52 507.03h2.25v19.91h-2.25zM624.75 502.46h2.25v32.14h-2.25zM630 475.52h2.25v47.34h-2.25zM635.24 536.74h2.25v13.86h-2.25zM640.48 544.89h2.25v9h-2.25zM645.72 460.32h2.25v25.31h-2.25zM650.96 506.03h2.25v30.71h-2.25zM656.2 468.98h2.25v58.77h-2.25zM661.44 489.06h2.25v39.83h-2.25zM666.68 508.66h2.25v33.8h-2.25zM671.92 552.49h2.25v0.57h-2.25zM677.16 458.03h2.25v78.71h-2.25zM682.4 428.49h2.25v94.37h-2.25zM687.64 523.66h2.25v6.06h-2.25zM692.88 495.92h2.25v37.88h-2.25zM698.12 522.86h2.25v18.77h-2.25zM703.36 450.21h2.25v63.34h-2.25zM708.6 546.2h2.25v8.86h-2.25zM713.84 516.32h2.25v34.28h-2.25zM719.08 499.17h2.25v41.63h-2.25zM724.32 524h2.25v23.66h-2.25zM729.56 427.04h2.25v93.71h-2.25zM734.8 484.8h2.25v43.77h-2.25zM740.04 519.6h2.25v24.14h-2.25zM745.28 538.37h2.25v13.06h-2.25zM750.52 504.09h2.25v40.8h-2.25zM755.75 475.52h2.25v57.94h-2.25zM761 477.95h2.25v57.48h-2.25zM766.24 482.03h2.25v51.43h-2.25zM771.48 484.8h2.25v54.85h-2.25zM776.72 511.92h2.25v28.57h-2.25zM781.96 540h2.25v14.68h-2.25zM787.2 547.03h2.25v10.89h-2.25zM792.44 502.95h2.25v35.43h-2.25zM797.68 498.03h2.25v40.34h-2.25zM802.92 504.09h2.25v38.68h-2.25zM808.16 515.83h2.25v23.83h-2.25zM813.4 530.69h2.25v15.83h-2.25zM818.64 512.23h2.25v35.43h-2.25zM823.88 547.03h2.25v9.29h-2.25zM829.12 492.66h2.25v44.88h-2.25zM834.36 483.98h2.25v56.74h-2.25zM839.6 495.66h2.25v42.83h-2.25zM844.84 501.72h2.25v33.08h-2.25zM850.08 529.54h2.25v19.06h-2.25zM855.32 501.72h2.25v40.97h-2.25zM860.56 547.34h2.25v7.14h-2.25zM865.8 488.43h2.25v56.91h-2.25z" fill="#bdd7ee"/>
<path d="M137.44 562.14h2.25v0.06h-2.25zM142.68 562.14h2.25v0.06h-2.25zM147.91 562.14h2.25v0.06h-2.25zM158.4 562.14h2.25v0.06h-2.25zM163.64 562.14h2.25v0.06h-2.25zM168.88 562.14h2.25v0.06h-2.25zM179.35 562.14h2.25v0.06h-2.25zM184.59 561.34h2.25v0.86h-2.25zM189.84 561.06h2.25v1.14h-2.25zM195.07 561.34h2.25v0.86h-2.25zM200.31 560.49h2.25v1.71h-2.25zM205.56 560.49h2.25v1.71h-2.25zM210.79 560.77h2.25v1.43h-2.25zM216.03 560.2h2.25v2h-2.25zM221.28 560.49h2.25v1.71h-2.25zM226.52 560.77h2.25v1.43h-2.25zM231.75 560.77h2.25v1.43h-2.25zM237 560.2h2.25v2h-2.25zM242.24 559.63h2.25v2.57h-2.25zM247.47 560.2h2.25v2h-2.25zM252.72 558.77h2.25v3.43h-2.25zM257.96 558.49h2.25v3.71h-2.25zM263.19 559.06h2.25v3.14h-2.25zM268.44 560.49h2.25v1.71h-2.25zM273.68 557.91h2.25v4.29h-2.25zM278.92 554.77h2.25v7.43h-2.25zM284.16 554.77h2.25v7.43h-2.25zM289.4 554.34h2.25v7.86h-2.25zM294.63 556.34h2.25v5.86h-2.25zM299.88 557.06h2.25v5.14h-2.25zM305.12 557.06h2.25v5.14h-2.25zM310.36 555.2h2.25v7h-2.25zM315.6 547.69h2.25v14.51h-2.25zM320.84 547.69h2.25v14.51h-2.25zM326.08 545.72h2.25v16.48h-2.25zM331.32 543.74h2.25v18.46h-2.25zM336.56 541.63h2.25v20.57h-2.25zM341.8 550.6h2.25v11.6h-2.25zM347.04 554.37h2.25v7.83h-2.25zM352.28 542.46h2.25v19.74h-2.25zM357.52 530.69h2.25v31.51h-2.25zM362.76 536.74h2.25v25.46h-2.25zM368 535.6h2.25v26.6h-2.25zM373.24 533.8h2.25v28.4h-2.25zM378.48 550.6h2.25v11.6h-2.25zM383.72 549.8h2.25v12.4h-2.25zM388.96 535.6h2.25v26.6h-2.25zM394.2 530.69h2.25v31.51h-2.25zM399.44 525.63h2.25v36.57h-2.25zM404.68 529.72h2.25v32.48h-2.25zM409.92 527.43h2.25v34.77h-2.25zM415.16 549.8h2.25v12.4h-2.25zM420.4 549.8h2.25v12.4h-2.25zM425.64 524h2.25v38.2h-2.25zM430.88 526.94h2.25v35.26h-2.25zM436.12 516.8h2.25v45.4h-2.25zM441.36 513.55h2.25v48.65h-2.25zM446.6 526.94h2.25v35.26h-2.25zM451.84 549.8h2.25v12.4h-2.25zM457.08 553.06h2.25v9.14h-2.25zM462.32 531.83h2.25v30.37h-2.25zM467.56 531.83h2.25v30.37h-2.25zM472.8 536.74h2.25v25.46h-2.25zM478.04 532.66h2.25v29.54h-2.25zM483.28 537.54h2.25v24.66h-2.25zM488.52 556.49h2.25v5.71h-2.25zM493.76 554.69h2.25v7.51h-2.25zM499 534.6h2.25v27.6h-2.25zM504.24 540h2.25v22.2h-2.25zM509.48 536.74h2.25v25.46h-2.25zM514.72 554.37h2.25v7.83h-2.25zM519.96 549.8h2.25v12.4h-2.25zM525.2 555.51h2.25v6.69h-2.25zM530.44 558.77h2.25v3.43h-2.25zM535.68 548.66h2.25v13.54h-2.25zM540.91 518.77h2.25v43.43h-2.25zM546.15 529.72h2.25v32.48h-2.25zM551.39 535.43h2.25v26.77h-2.25zM556.63 527.74h2.25v34.46h-2.25zM561.88 547.66h2.25v14.54h-2.25zM567.12 554.69h2.25v7.51h-2.25zM572.36 524.8h2.25v37.4h-2.25zM577.6 514.69h2.25v47.51h-2.25zM582.84 547.34h2.25v14.86h-2.25zM588.08 535.43h2.25v26.77h-2.25zM593.32 539.17h2.25v23.03h-2.25zM598.56 551.43h2.25v10.77h-2.25zM603.8 554.69h2.25v7.51h-2.25zM609.04 535.92h2.25v26.28h-2.25zM614.28 521.54h2.25v40.66h-2.25zM619.52 526.94h2.25v35.26h-2.25zM624.75 534.6h2.25v27.6h-2.25zM630 522.86h2.25v39.34h-2.25zM635.24 550.6h2.25v11.6h-2.25zM640.48 553.89h2.25v8.31h-2.25zM645.72 485.63h2.25v76.57h-2.25zM650.96 536.74h2.25v25.46h-2.25zM656.2 527.74h2.25v34.46h-2.25zM661.44 528.89h2.25v33.31h-2.25zM666.68 542.46h2.25v19.74h-2.25zM671.92 553.06h2.25v9.14h-2.25zM677.16 536.74h2.25v25.46h-2.25zM682.4 522.86h2.25v39.34h-2.25zM687.64 529.72h2.25v32.48h-2.25zM692.88 533.8h2.25v28.4h-2.25zM698.12 541.63h2.25v20.57h-2.25zM703.36 513.55h2.25v48.65h-2.25zM708.6 555.06h2.25v7.14h-2.25zM713.84 550.6h2.25v11.6h-2.25zM719.08 540.8h2.25v21.4h-2.25zM724.32 547.66h2.25v14.54h-2.25zM729.56 520.74h2.25v41.46h-2.25zM734.8 528.57h2.25v33.63h-2.25zM740.04 543.74h2.25v18.46h-2.25zM745.28 551.43h2.25v10.77h-2.25zM750.52 544.89h2.25v17.31h-2.25zM755.75 533.46h2.25v28.74h-2.25zM761 535.43h2.25v26.77h-2.25zM766.24 533.46h2.25v28.74h-2.25zM771.48 539.66h2.25v22.54h-2.25zM776.72 540.49h2.25v21.71h-2.25zM781.96 554.69h2.25v7.51h-2.25zM787.2 557.91h2.25v4.29h-2.25zM792.44 538.37h2.25v23.83h-2.25zM797.68 538.37h2.25v23.83h-2.25zM802.92 542.77h2.25v19.43h-2.25zM808.16 539.66h2.25v22.54h-2.25zM813.4 546.52h2.25v15.68h-2.25zM818.64 547.66h2.25v14.54h-2.25zM823.88 556.31h2.25v5.89h-2.25zM829.12 537.54h2.25v24.66h-2.25zM834.36 540.72h2.25v21.48h-2.25zM839.6 538.49h2.25v23.71h-2.25zM844.84 534.8h2.25v27.4h-2.25zM850.08 548.6h2.25v13.6h-2.25zM855.32 542.69h2.25v19.51h-2.25zM860.56 554.49h2.25v7.71h-2.25zM865.8 545.34h2.25v16.86h-2.25z" fill="#4a8fd3"/>
<line x1="52" x2="869.54" y1="562.5" y2="562.5" stroke="#d0d0d0" stroke-width="1"/>
<text x="94.02" y="578.8" text-anchor="middle" class="mo">mar</text>
<text x="214.54" y="578.8" text-anchor="middle" class="mo">abr</text>
<text x="374.36" y="578.8" text-anchor="middle" class="mo">mai</text>
<text x="534.18" y="578.8" text-anchor="middle" class="mo">jun</text>
<text x="694" y="578.8" text-anchor="middle" class="mo">jul</text>
<text x="822.38" y="578.8" text-anchor="middle" class="mo">ago</text>
<line x1="52.5" x2="52.5" y1="562.5" y2="580.9" stroke="#d0d0d0" stroke-width="1"/>
<line x1="135.5" x2="135.5" y1="562.5" y2="580.9" stroke="#d0d0d0" stroke-width="1"/>
<line x1="293.5" x2="293.5" y1="562.5" y2="580.9" stroke="#d0d0d0" stroke-width="1"/>
<line x1="455.5" x2="455.5" y1="562.5" y2="580.9" stroke="#d0d0d0" stroke-width="1"/>
<line x1="612.5" x2="612.5" y1="562.5" y2="580.9" stroke="#d0d0d0" stroke-width="1"/>
<line x1="775.5" x2="775.5" y1="562.5" y2="580.9" stroke="#d0d0d0" stroke-width="1"/>
<line x1="869.5" x2="869.5" y1="562.5" y2="580.9" stroke="#d0d0d0" stroke-width="1"/>
<text x="54.72" y="569.55" text-anchor="middle" class="dy">13</text>
<text x="59.96" y="569.55" text-anchor="middle" class="dy">14</text>
<text x="65.2" y="569.55" text-anchor="middle" class="dy">18</text>
<text x="70.44" y="569.55" text-anchor="middle" class="dy">19</text>
<text x="75.68" y="569.55" text-anchor="middle" class="dy">20</text>
<text x="80.92" y="569.55" text-anchor="middle" class="dy">21</text>
<text x="86.16" y="569.55" text-anchor="middle" class="dy">22</text>
<text x="91.4" y="569.55" text-anchor="middle" class="dy">23</text>
<text x="96.64" y="569.55" text-anchor="middle" class="dy">24</text>
<text x="101.88" y="569.55" text-anchor="middle" class="dy">25</text>
<text x="107.12" y="569.55" text-anchor="middle" class="dy">26</text>
<text x="112.36" y="569.55" text-anchor="middle" class="dy">27</text>
<text x="117.6" y="569.55" text-anchor="middle" class="dy">28</text>
<text x="122.84" y="569.55" text-anchor="middle" class="dy">29</text>
<text x="128.08" y="569.55" text-anchor="middle" class="dy">30</text>
<text x="133.32" y="569.55" text-anchor="middle" class="dy">31</text>
<text x="138.56" y="569.55" text-anchor="middle" class="dy">1</text>
<text x="143.8" y="569.55" text-anchor="middle" class="dy">2</text>
<text x="149.04" y="569.55" text-anchor="middle" class="dy">3</text>
<text x="154.28" y="569.55" text-anchor="middle" class="dy">4</text>
<text x="159.52" y="569.55" text-anchor="middle" class="dy">5</text>
<text x="164.76" y="569.55" text-anchor="middle" class="dy">6</text>
<text x="170" y="569.55" text-anchor="middle" class="dy">7</text>
<text x="175.24" y="569.55" text-anchor="middle" class="dy">8</text>
<text x="180.48" y="569.55" text-anchor="middle" class="dy">9</text>
<text x="185.72" y="569.55" text-anchor="middle" class="dy">10</text>
<text x="190.96" y="569.55" text-anchor="middle" class="dy">11</text>
<text x="196.2" y="569.55" text-anchor="middle" class="dy">12</text>
<text x="201.44" y="569.55" text-anchor="middle" class="dy">13</text>
<text x="206.68" y="569.55" text-anchor="middle" class="dy">14</text>
<text x="211.92" y="569.55" text-anchor="middle" class="dy">15</text>
<text x="217.16" y="569.55" text-anchor="middle" class="dy">16</text>
<text x="222.4" y="569.55" text-anchor="middle" class="dy">17</text>
<text x="227.64" y="569.55" text-anchor="middle" class="dy">18</text>
<text x="232.88" y="569.55" text-anchor="middle" class="dy">19</text>
<text x="238.12" y="569.55" text-anchor="middle" class="dy">20</text>
<text x="243.36" y="569.55" text-anchor="middle" class="dy">21</text>
<text x="248.6" y="569.55" text-anchor="middle" class="dy">22</text>
<text x="253.84" y="569.55" text-anchor="middle" class="dy">23</text>
<text x="259.08" y="569.55" text-anchor="middle" class="dy">24</text>
<text x="264.32" y="569.55" text-anchor="middle" class="dy">25</text>
<text x="269.56" y="569.55" text-anchor="middle" class="dy">26</text>
<text x="274.8" y="569.55" text-anchor="middle" class="dy">27</text>
<text x="280.04" y="569.55" text-anchor="middle" class="dy">28</text>
<text x="285.28" y="569.55" text-anchor="middle" class="dy">29</text>
<text x="290.52" y="569.55" text-anchor="middle" class="dy">30</text>
<text x="295.76" y="569.55" text-anchor="middle" class="dy">1</text>
<text x="301" y="569.55" text-anchor="middle" class="dy">2</text>
<text x="306.24" y="569.55" text-anchor="middle" class="dy">3</text>
<text x="311.48" y="569.55" text-anchor="middle" class="dy">4</text>
<text x="316.72" y="569.55" text-anchor="middle" class="dy">5</text>
<text x="321.96" y="569.55" text-anchor="middle" class="dy">6</text>
<text x="327.2" y="569.55" text-anchor="middle" class="dy">7</text>
<text x="332.44" y="569.55" text-anchor="middle" class="dy">8</text>
<text x="337.68" y="569.55" text-anchor="middle" class="dy">9</text>
<text x="342.92" y="569.55" text-anchor="middle" class="dy">10</text>
<text x="348.16" y="569.55" text-anchor="middle" class="dy">11</text>
<text x="353.4" y="569.55" text-anchor="middle" class="dy">12</text>
<text x="358.64" y="569.55" text-anchor="middle" class="dy">13</text>
<text x="363.88" y="569.55" text-anchor="middle" class="dy">14</text>
<text x="369.12" y="569.55" text-anchor="middle" class="dy">15</text>
<text x="374.36" y="569.55" text-anchor="middle" class="dy">16</text>
<text x="379.6" y="569.55" text-anchor="middle" class="dy">17</text>
<text x="384.84" y="569.55" text-anchor="middle" class="dy">18</text>
<text x="390.08" y="569.55" text-anchor="middle" class="dy">19</text>
<text x="395.32" y="569.55" text-anchor="middle" class="dy">20</text>
<text x="400.56" y="569.55" text-anchor="middle" class="dy">21</text>
<text x="405.8" y="569.55" text-anchor="middle" class="dy">22</text>
<text x="411.04" y="569.55" text-anchor="middle" class="dy">23</text>
<text x="416.28" y="569.55" text-anchor="middle" class="dy">24</text>
<text x="421.52" y="569.55" text-anchor="middle" class="dy">25</text>
<text x="426.76" y="569.55" text-anchor="middle" class="dy">26</text>
<text x="432" y="569.55" text-anchor="middle" class="dy">27</text>
<text x="437.24" y="569.55" text-anchor="middle" class="dy">28</text>
<text x="442.48" y="569.55" text-anchor="middle" class="dy">29</text>
<text x="447.72" y="569.55" text-anchor="middle" class="dy">30</text>
<text x="452.96" y="569.55" text-anchor="middle" class="dy">31</text>
<text x="458.2" y="569.55" text-anchor="middle" class="dy">1</text>
<text x="463.44" y="569.55" text-anchor="middle" class="dy">2</text>
<text x="468.68" y="569.55" text-anchor="middle" class="dy">3</text>
<text x="473.92" y="569.55" text-anchor="middle" class="dy">4</text>
<text x="479.16" y="569.55" text-anchor="middle" class="dy">5</text>
<text x="484.4" y="569.55" text-anchor="middle" class="dy">6</text>
<text x="489.64" y="569.55" text-anchor="middle" class="dy">7</text>
<text x="494.88" y="569.55" text-anchor="middle" class="dy">8</text>
<text x="500.12" y="569.55" text-anchor="middle" class="dy">9</text>
<text x="505.36" y="569.55" text-anchor="middle" class="dy">10</text>
<text x="510.6" y="569.55" text-anchor="middle" class="dy">11</text>
<text x="515.84" y="569.55" text-anchor="middle" class="dy">12</text>
<text x="521.08" y="569.55" text-anchor="middle" class="dy">13</text>
<text x="526.32" y="569.55" text-anchor="middle" class="dy">14</text>
<text x="531.56" y="569.55" text-anchor="middle" class="dy">15</text>
<text x="536.8" y="569.55" text-anchor="middle" class="dy">16</text>
<text x="542.04" y="569.55" text-anchor="middle" class="dy">17</text>
<text x="547.28" y="569.55" text-anchor="middle" class="dy">18</text>
<text x="552.52" y="569.55" text-anchor="middle" class="dy">19</text>
<text x="557.76" y="569.55" text-anchor="middle" class="dy">20</text>
<text x="563" y="569.55" text-anchor="middle" class="dy">21</text>
<text x="568.24" y="569.55" text-anchor="middle" class="dy">22</text>
<text x="573.48" y="569.55" text-anchor="middle" class="dy">23</text>
<text x="578.72" y="569.55" text-anchor="middle" class="dy">24</text>
<text x="583.96" y="569.55" text-anchor="middle" class="dy">25</text>
<text x="589.2" y="569.55" text-anchor="middle" class="dy">26</text>
<text x="594.44" y="569.55" text-anchor="middle" class="dy">27</text>
<text x="599.68" y="569.55" text-anchor="middle" class="dy">28</text>
<text x="604.92" y="569.55" text-anchor="middle" class="dy">29</text>
<text x="610.16" y="569.55" text-anchor="middle" class="dy">30</text>
<text x="615.4" y="569.55" text-anchor="middle" class="dy">1</text>
<text x="620.64" y="569.55" text-anchor="middle" class="dy">2</text>
<text x="625.88" y="569.55" text-anchor="middle" class="dy">3</text>
<text x="631.12" y="569.55" text-anchor="middle" class="dy">4</text>
<text x="636.36" y="569.55" text-anchor="middle" class="dy">5</text>
<text x="641.6" y="569.55" text-anchor="middle" class="dy">6</text>
<text x="646.84" y="569.55" text-anchor="middle" class="dy">7</text>
<text x="652.08" y="569.55" text-anchor="middle" class="dy">8</text>
<text x="657.32" y="569.55" text-anchor="middle" class="dy">9</text>
<text x="662.56" y="569.55" text-anchor="middle" class="dy">10</text>
<text x="667.8" y="569.55" text-anchor="middle" class="dy">11</text>
<text x="673.04" y="569.55" text-anchor="middle" class="dy">12</text>
<text x="678.28" y="569.55" text-anchor="middle" class="dy">13</text>
<text x="683.52" y="569.55" text-anchor="middle" class="dy">14</text>
<text x="688.76" y="569.55" text-anchor="middle" class="dy">15</text>
<text x="694" y="569.55" text-anchor="middle" class="dy">16</text>
<text x="699.24" y="569.55" text-anchor="middle" class="dy">17</text>
<text x="704.48" y="569.55" text-anchor="middle" class="dy">18</text>
<text x="709.72" y="569.55" text-anchor="middle" class="dy">19</text>
<text x="714.96" y="569.55" text-anchor="middle" class="dy">20</text>
<text x="720.2" y="569.55" text-anchor="middle" class="dy">21</text>
<text x="725.44" y="569.55" text-anchor="middle" class="dy">22</text>
<text x="730.68" y="569.55" text-anchor="middle" class="dy">23</text>
<text x="735.92" y="569.55" text-anchor="middle" class="dy">24</text>
<text x="741.16" y="569.55" text-anchor="middle" class="dy">25</text>
<text x="746.4" y="569.55" text-anchor="middle" class="dy">26</text>
<text x="751.64" y="569.55" text-anchor="middle" class="dy">27</text>
<text x="756.88" y="569.55" text-anchor="middle" class="dy">28</text>
<text x="762.12" y="569.55" text-anchor="middle" class="dy">29</text>
<text x="767.36" y="569.55" text-anchor="middle" class="dy">30</text>
<text x="772.6" y="569.55" text-anchor="middle" class="dy">31</text>
<text x="777.84" y="569.55" text-anchor="middle" class="dy">1</text>
<text x="783.08" y="569.55" text-anchor="middle" class="dy">2</text>
<text x="788.32" y="569.55" text-anchor="middle" class="dy">3</text>
<text x="793.56" y="569.55" text-anchor="middle" class="dy">4</text>
<text x="798.8" y="569.55" text-anchor="middle" class="dy">5</text>
<text x="804.04" y="569.55" text-anchor="middle" class="dy">6</text>
<text x="809.28" y="569.55" text-anchor="middle" class="dy">7</text>
<text x="814.52" y="569.55" text-anchor="middle" class="dy">8</text>
<text x="819.76" y="569.55" text-anchor="middle" class="dy">9</text>
<text x="825" y="569.55" text-anchor="middle" class="dy">10</text>
<text x="830.24" y="569.55" text-anchor="middle" class="dy">11</text>
<text x="835.48" y="569.55" text-anchor="middle" class="dy">12</text>
<text x="840.72" y="569.55" text-anchor="middle" class="dy">13</text>
<text x="845.96" y="569.55" text-anchor="middle" class="dy">14</text>
<text x="851.2" y="569.55" text-anchor="middle" class="dy">15</text>
<text x="856.44" y="569.55" text-anchor="middle" class="dy">16</text>
<text x="861.68" y="569.55" text-anchor="middle" class="dy">17</text>
<text x="866.92" y="569.55" text-anchor="middle" class="dy">18</text>
<text transform="translate(77.08 562.19) rotate(-90)" text-anchor="middle" class="dl">1</text>
<text transform="translate(77.08 562.16) rotate(-90)" text-anchor="middle" class="dl">1</text>
<text transform="translate(82.32 562.19) rotate(-90)" text-anchor="middle" class="dl">1</text>
<text transform="translate(82.32 562.16) rotate(-90)" text-anchor="middle" class="dl">1</text>
<text transform="translate(87.56 562.19) rotate(-90)" text-anchor="middle" class="dl">1</text>
<text transform="translate(87.56 562.16) rotate(-90)" text-anchor="middle" class="dl">1</text>
<text transform="translate(98.04 562.19) rotate(-90)" text-anchor="middle" class="dl">1</text>
<text transform="translate(108.52 562.19) rotate(-90)" text-anchor="middle" class="dl">1</text>
<text transform="translate(108.52 562.16) rotate(-90)" text-anchor="middle" class="dl">1</text>
<text transform="translate(113.76 562.19) rotate(-90)" text-anchor="middle" class="dl">1</text>
<text transform="translate(113.76 562.16) rotate(-90)" text-anchor="middle" class="dl">1</text>
<text transform="translate(119 562.19) rotate(-90)" text-anchor="middle" class="dl">1</text>
<text transform="translate(119 562.14) rotate(-90)" text-anchor="middle" class="dl">2</text>
<text transform="translate(124.24 562.19) rotate(-90)" text-anchor="middle" class="dl">1</text>
<text transform="translate(124.24 562.16) rotate(-90)" text-anchor="middle" class="dl">1</text>
<text transform="translate(134.72 562.19) rotate(-90)" text-anchor="middle" class="dl">1</text>
<text transform="translate(134.72 562.16) rotate(-90)" text-anchor="middle" class="dl">1</text>
<text transform="translate(139.96 562.17) rotate(-90)" text-anchor="middle" class="dl">2</text>
<text transform="translate(139.96 562.1) rotate(-90)" text-anchor="middle" class="dl">3</text>
<text transform="translate(145.2 562.17) rotate(-90)" text-anchor="middle" class="dl">2</text>
<text transform="translate(145.2 562.09) rotate(-90)" text-anchor="middle" class="dl">4</text>
<text transform="translate(150.44 562.17) rotate(-90)" text-anchor="middle" class="dl">2</text>
<text transform="translate(150.44 562.09) rotate(-90)" text-anchor="middle" class="dl">4</text>
<text transform="translate(155.68 562.19) rotate(-90)" text-anchor="middle" class="dl">1</text>
<text transform="translate(155.68 562.13) rotate(-90)" text-anchor="middle" class="dl">3</text>
<text transform="translate(160.92 562.17) rotate(-90)" text-anchor="middle" class="dl">2</text>
<text transform="translate(160.92 562.09) rotate(-90)" text-anchor="middle" class="dl">4</text>
<text transform="translate(166.16 562.17) rotate(-90)" text-anchor="middle" class="dl">2</text>
<text transform="translate(166.16 562.09) rotate(-90)" text-anchor="middle" class="dl">4</text>
<text transform="translate(171.4 562.17) rotate(-90)" text-anchor="middle" class="dl">2</text>
<text transform="translate(171.4 562) rotate(-90)" text-anchor="middle" class="dl">10</text>
<text transform="translate(176.64 562.19) rotate(-90)" text-anchor="middle" class="dl">1</text>
<text transform="translate(176.64 562.14) rotate(-90)" text-anchor="middle" class="dl">2</text>
<text transform="translate(181.88 562.17) rotate(-90)" text-anchor="middle" class="dl">2</text>
<text transform="translate(181.88 561.97) rotate(-90)" text-anchor="middle" class="dl">12</text>
<text transform="translate(187.12 561.77) rotate(-90)" text-anchor="middle" class="dl">30</text>
<text transform="translate(187.12 558.91) rotate(-90)" text-anchor="middle" class="dl">170</text>
<text transform="translate(192.36 561.63) rotate(-90)" text-anchor="middle" class="dl">40</text>
<text transform="translate(192.36 557.63) rotate(-90)" text-anchor="middle" class="dl">240</text>
<text transform="translate(197.6 561.77) rotate(-90)" text-anchor="middle" class="dl">30</text>
<text transform="translate(197.6 558.91) rotate(-90)" text-anchor="middle" class="dl">170</text>
<text transform="translate(202.84 561.34) rotate(-90)" text-anchor="middle" class="dl">60</text>
<text transform="translate(202.84 551.06) rotate(-90)" text-anchor="middle" class="dl">660</text>
<text transform="translate(208.08 561.34) rotate(-90)" text-anchor="middle" class="dl">60</text>
<text transform="translate(208.08 552.06) rotate(-90)" text-anchor="middle" class="dl">590</text>
<text transform="translate(213.32 561.49) rotate(-90)" text-anchor="middle" class="dl">50</text>
<text transform="translate(213.32 553.41) rotate(-90)" text-anchor="middle" class="dl">515</text>
<text transform="translate(218.56 561.2) rotate(-90)" text-anchor="middle" class="dl">70</text>
<text transform="translate(218.56 552.56) rotate(-90)" text-anchor="middle" class="dl">535</text>
<text transform="translate(223.8 561.34) rotate(-90)" text-anchor="middle" class="dl">60</text>
<text transform="translate(223.8 552.84) rotate(-90)" text-anchor="middle" class="dl">535</text>
<text transform="translate(229.04 561.49) rotate(-90)" text-anchor="middle" class="dl">50</text>
<text transform="translate(229.04 557.77) rotate(-90)" text-anchor="middle" class="dl">210</text>
<text transform="translate(234.28 561.49) rotate(-90)" text-anchor="middle" class="dl">50</text>
<text transform="translate(234.28 557.34) rotate(-90)" text-anchor="middle" class="dl">240</text>
<text transform="translate(239.52 561.2) rotate(-90)" text-anchor="middle" class="dl">70</text>
<text transform="translate(239.52 550.49) rotate(-90)" text-anchor="middle" class="dl">680</text>
<text transform="translate(244.76 560.91) rotate(-90)" text-anchor="middle" class="dl">90</text>
<text transform="translate(244.76 554.06) rotate(-90)" text-anchor="middle" class="dl">390</text>
<text transform="translate(250 561.2) rotate(-90)" text-anchor="middle" class="dl">70</text>
<text transform="translate(250 549.7) rotate(-90)" text-anchor="middle" class="dl">735</text>
<text transform="translate(255.24 560.49) rotate(-90)" text-anchor="middle" class="dl">120</text>
<text transform="translate(255.24 550.34) rotate(-90)" text-anchor="middle" class="dl">590</text>
<text transform="translate(260.48 560.34) rotate(-90)" text-anchor="middle" class="dl">130</text>
<text transform="translate(260.48 545.2) rotate(-90)" text-anchor="middle" class="dl">930</text>
<text transform="translate(265.72 560.63) rotate(-90)" text-anchor="middle" class="dl">110</text>
<text transform="translate(265.72 553.06) rotate(-90)" text-anchor="middle" class="dl">420</text>
<text transform="translate(270.96 561.34) rotate(-90)" text-anchor="middle" class="dl">60</text>
<text transform="translate(270.96 556.77) rotate(-90)" text-anchor="middle" class="dl">260</text>
<text transform="translate(276.2 560.06) rotate(-90)" text-anchor="middle" class="dl">150</text>
<text transform="translate(276.2 540.96) rotate(-90)" text-anchor="middle" class="dl">1,187</text>
<text transform="translate(281.44 558.49) rotate(-90)" text-anchor="middle" class="dl">260</text>
<text transform="translate(281.44 541.67) rotate(-90)" text-anchor="middle" class="dl">917</text>
<text transform="translate(286.68 558.49) rotate(-90)" text-anchor="middle" class="dl">260</text>
<text transform="translate(286.68 546.73) rotate(-90)" text-anchor="middle" class="dl">563</text>
<text transform="translate(291.92 558.27) rotate(-90)" text-anchor="middle" class="dl">275</text>
<text transform="translate(291.92 545.79) rotate(-90)" text-anchor="middle" class="dl">599</text>
<text transform="translate(297.16 559.27) rotate(-90)" text-anchor="middle" class="dl">205</text>
<text transform="translate(297.16 550.37) rotate(-90)" text-anchor="middle" class="dl">418</text>
<text transform="translate(302.4 559.63) rotate(-90)" text-anchor="middle" class="dl">180</text>
<text transform="translate(302.4 550) rotate(-90)" text-anchor="middle" class="dl">494</text>
<text transform="translate(307.64 559.63) rotate(-90)" text-anchor="middle" class="dl">180</text>
<text transform="translate(307.64 551.77) rotate(-90)" text-anchor="middle" class="dl">370</text>
<text transform="translate(312.88 558.7) rotate(-90)" text-anchor="middle" class="dl">245</text>
<text transform="translate(312.88 541.07) rotate(-90)" text-anchor="middle" class="dl">989</text>
<text transform="translate(318.12 554.94) rotate(-90)" text-anchor="middle" class="dl">508</text>
<text transform="translate(318.12 530.37) rotate(-90)" text-anchor="middle" class="dl">1,212</text>
<text transform="translate(323.36 554.94) rotate(-90)" text-anchor="middle" class="dl">508</text>
<text transform="translate(323.36 532.57) rotate(-90)" text-anchor="middle" class="dl">1,058</text>
<text transform="translate(328.6 553.96) rotate(-90)" text-anchor="middle" class="dl">577</text>
<text transform="translate(328.6 530.2) rotate(-90)" text-anchor="middle" class="dl">1,086</text>
<text transform="translate(333.84 552.97) rotate(-90)" text-anchor="middle" class="dl">646</text>
<text transform="translate(333.84 519.83) rotate(-90)" text-anchor="middle" class="dl">1,674</text>
<text transform="translate(339.08 551.91) rotate(-90)" text-anchor="middle" class="dl">720</text>
<text transform="translate(339.08 534.86) rotate(-90)" text-anchor="middle" class="dl">474</text>
<text transform="translate(344.32 556.4) rotate(-90)" text-anchor="middle" class="dl">406</text>
<text transform="translate(344.32 545.3) rotate(-90)" text-anchor="middle" class="dl">371</text>
<text transform="translate(349.56 558.29) rotate(-90)" text-anchor="middle" class="dl">274</text>
<text transform="translate(349.56 537.39) rotate(-90)" text-anchor="middle" class="dl">1,189</text>
<text transform="translate(354.8 552.33) rotate(-90)" text-anchor="middle" class="dl">691</text>
<text transform="translate(354.8 514.29) rotate(-90)" text-anchor="middle" class="dl">1,972</text>
<text transform="translate(360.04 546.44) rotate(-90)" text-anchor="middle" class="dl">1,103</text>
<text transform="translate(360.04 517.22) rotate(-90)" text-anchor="middle" class="dl">943</text>
<text transform="translate(365.28 549.47) rotate(-90)" text-anchor="middle" class="dl">891</text>
<text transform="translate(365.28 518.77) rotate(-90)" text-anchor="middle" class="dl">1,258</text>
<text transform="translate(370.52 548.9) rotate(-90)" text-anchor="middle" class="dl">931</text>
<text transform="translate(370.52 518.46) rotate(-90)" text-anchor="middle" class="dl">1,200</text>
<text transform="translate(375.76 548) rotate(-90)" text-anchor="middle" class="dl">994</text>
<text transform="translate(375.76 525.47) rotate(-90)" text-anchor="middle" class="dl">583</text>
<text transform="translate(381 556.4) rotate(-90)" text-anchor="middle" class="dl">406</text>
<text transform="translate(381 539.02) rotate(-90)" text-anchor="middle" class="dl">811</text>
<text transform="translate(386.24 556) rotate(-90)" text-anchor="middle" class="dl">434</text>
<text transform="translate(386.24 522.44) rotate(-90)" text-anchor="middle" class="dl">1,915</text>
<text transform="translate(391.48 548.9) rotate(-90)" text-anchor="middle" class="dl">931</text>
<text transform="translate(391.48 523.67) rotate(-90)" text-anchor="middle" class="dl">835</text>
<text transform="translate(396.72 546.44) rotate(-90)" text-anchor="middle" class="dl">1,103</text>
<text transform="translate(396.72 519.67) rotate(-90)" text-anchor="middle" class="dl">771</text>
<text transform="translate(401.96 543.92) rotate(-90)" text-anchor="middle" class="dl">1,280</text>
<text transform="translate(401.96 511.83) rotate(-90)" text-anchor="middle" class="dl">966</text>
<text transform="translate(407.2 545.96) rotate(-90)" text-anchor="middle" class="dl">1,137</text>
<text transform="translate(407.2 511.35) rotate(-90)" text-anchor="middle" class="dl">1,286</text>
<text transform="translate(412.44 544.82) rotate(-90)" text-anchor="middle" class="dl">1,217</text>
<text transform="translate(412.44 467.35) rotate(-90)" text-anchor="middle" class="dl">4,206</text>
<text transform="translate(417.68 556) rotate(-90)" text-anchor="middle" class="dl">434</text>
<text transform="translate(417.68 534.86) rotate(-90)" text-anchor="middle" class="dl">1,046</text>
<text transform="translate(422.92 556) rotate(-90)" text-anchor="middle" class="dl">434</text>
<text transform="translate(422.92 529.8) rotate(-90)" text-anchor="middle" class="dl">1,400</text>
<text transform="translate(428.16 543.1) rotate(-90)" text-anchor="middle" class="dl">1,337</text>
<text transform="translate(428.16 518.53) rotate(-90)" text-anchor="middle" class="dl">383</text>
<text transform="translate(433.4 544.57) rotate(-90)" text-anchor="middle" class="dl">1,234</text>
<text transform="translate(433.4 518.37) rotate(-90)" text-anchor="middle" class="dl">600</text>
<text transform="translate(438.64 539.5) rotate(-90)" text-anchor="middle" class="dl">1,589</text>
<text transform="translate(438.64 459.02) rotate(-90)" text-anchor="middle" class="dl">4,045</text>
<text transform="translate(443.88 537.87) rotate(-90)" text-anchor="middle" class="dl">1,703</text>
<text transform="translate(443.88 450.21) rotate(-90)" text-anchor="middle" class="dl">4,434</text>
<text transform="translate(449.12 544.57) rotate(-90)" text-anchor="middle" class="dl">1,234</text>
<text transform="translate(449.12 490.62) rotate(-90)" text-anchor="middle" class="dl">2,543</text>
<text transform="translate(454.36 556) rotate(-90)" text-anchor="middle" class="dl">434</text>
<text transform="translate(454.36 533.87) rotate(-90)" text-anchor="middle" class="dl">1,115</text>
<text transform="translate(459.6 557.63) rotate(-90)" text-anchor="middle" class="dl">320</text>
<text transform="translate(459.6 542.04) rotate(-90)" text-anchor="middle" class="dl">771</text>
<text transform="translate(464.84 547.02) rotate(-90)" text-anchor="middle" class="dl">1,063</text>
<text transform="translate(464.84 476.73) rotate(-90)" text-anchor="middle" class="dl">3,857</text>
<text transform="translate(470.08 547.02) rotate(-90)" text-anchor="middle" class="dl">1,063</text>
<text transform="translate(470.08 511.02) rotate(-90)" text-anchor="middle" class="dl">1,457</text>
<text transform="translate(475.32 549.47) rotate(-90)" text-anchor="middle" class="dl">891</text>
<text transform="translate(475.32 495.76) rotate(-90)" text-anchor="middle" class="dl">2,869</text>
<text transform="translate(480.56 547.43) rotate(-90)" text-anchor="middle" class="dl">1,034</text>
<text transform="translate(480.56 495.67) rotate(-90)" text-anchor="middle" class="dl">2,589</text>
<text transform="translate(485.8 549.87) rotate(-90)" text-anchor="middle" class="dl">863</text>
<text transform="translate(485.8 518.36) rotate(-90)" text-anchor="middle" class="dl">1,343</text>
<text transform="translate(491.04 559.34) rotate(-90)" text-anchor="middle" class="dl">200</text>
<text transform="translate(491.04 546.62) rotate(-90)" text-anchor="middle" class="dl">691</text>
<text transform="translate(496.28 558.44) rotate(-90)" text-anchor="middle" class="dl">263</text>
<text transform="translate(496.28 527.34) rotate(-90)" text-anchor="middle" class="dl">1,914</text>
<text transform="translate(501.52 548.4) rotate(-90)" text-anchor="middle" class="dl">966</text>
<text transform="translate(501.52 499.75) rotate(-90)" text-anchor="middle" class="dl">2,440</text>
<text transform="translate(506.76 551.1) rotate(-90)" text-anchor="middle" class="dl">777</text>
<text transform="translate(506.76 507.59) rotate(-90)" text-anchor="middle" class="dl">2,269</text>
<text transform="translate(512 549.47) rotate(-90)" text-anchor="middle" class="dl">891</text>
<text transform="translate(512 498.37) rotate(-90)" text-anchor="middle" class="dl">2,686</text>
<text transform="translate(517.24 558.29) rotate(-90)" text-anchor="middle" class="dl">274</text>
<text transform="translate(517.24 537.14) rotate(-90)" text-anchor="middle" class="dl">1,206</text>
<text transform="translate(522.48 556) rotate(-90)" text-anchor="middle" class="dl">434</text>
<text transform="translate(522.48 527.19) rotate(-90)" text-anchor="middle" class="dl">1,583</text>
<text transform="translate(527.72 558.86) rotate(-90)" text-anchor="middle" class="dl">234</text>
<text transform="translate(527.72 544.66) rotate(-90)" text-anchor="middle" class="dl">760</text>
<text transform="translate(532.96 560.49) rotate(-90)" text-anchor="middle" class="dl">120</text>
<text transform="translate(532.96 547.34) rotate(-90)" text-anchor="middle" class="dl">800</text>
<text transform="translate(538.2 555.43) rotate(-90)" text-anchor="middle" class="dl">474</text>
<text transform="translate(538.2 508.42) rotate(-90)" text-anchor="middle" class="dl">2,817</text>
<text transform="translate(543.44 540.49) rotate(-90)" text-anchor="middle" class="dl">1,520</text>
<text transform="translate(543.44 496.49) rotate(-90)" text-anchor="middle" class="dl">1,560</text>
<text transform="translate(548.68 545.96) rotate(-90)" text-anchor="middle" class="dl">1,137</text>
<text transform="translate(548.68 524.24) rotate(-90)" text-anchor="middle" class="dl">383</text>
<text transform="translate(553.92 548.81) rotate(-90)" text-anchor="middle" class="dl">937</text>
<text transform="translate(553.92 503.83) rotate(-90)" text-anchor="middle" class="dl">2,212</text>
<text transform="translate(559.16 544.97) rotate(-90)" text-anchor="middle" class="dl">1,206</text>
<text transform="translate(559.16 526.36) rotate(-90)" text-anchor="middle" class="dl">97</text>
<text transform="translate(564.4 554.93) rotate(-90)" text-anchor="middle" class="dl">509</text>
<text transform="translate(564.4 512.23) rotate(-90)" text-anchor="middle" class="dl">2,480</text>
<text transform="translate(569.64 558.44) rotate(-90)" text-anchor="middle" class="dl">263</text>
<text transform="translate(569.64 544.07) rotate(-90)" text-anchor="middle" class="dl">743</text>
<text transform="translate(574.88 543.5) rotate(-90)" text-anchor="middle" class="dl">1,309</text>
<text transform="translate(574.88 491.42) rotate(-90)" text-anchor="middle" class="dl">2,337</text>
<text transform="translate(580.12 538.44) rotate(-90)" text-anchor="middle" class="dl">1,663</text>
<text transform="translate(580.12 483.1) rotate(-90)" text-anchor="middle" class="dl">2,211</text>
<text transform="translate(585.36 554.77) rotate(-90)" text-anchor="middle" class="dl">520</text>
<text transform="translate(585.36 522.04) rotate(-90)" text-anchor="middle" class="dl">1,771</text>
<text transform="translate(590.6 548.81) rotate(-90)" text-anchor="middle" class="dl">937</text>
<text transform="translate(590.6 516.73) rotate(-90)" text-anchor="middle" class="dl">1,309</text>
<text transform="translate(595.84 550.69) rotate(-90)" text-anchor="middle" class="dl">806</text>
<text transform="translate(595.84 536.32) rotate(-90)" text-anchor="middle" class="dl">200</text>
<text transform="translate(601.08 556.81) rotate(-90)" text-anchor="middle" class="dl">377</text>
<text transform="translate(601.08 546.29) rotate(-90)" text-anchor="middle" class="dl">360</text>
<text transform="translate(606.32 558.44) rotate(-90)" text-anchor="middle" class="dl">263</text>
<text transform="translate(606.32 548) rotate(-90)" text-anchor="middle" class="dl">468</text>
<text transform="translate(611.56 549.06) rotate(-90)" text-anchor="middle" class="dl">920</text>
<text transform="translate(611.56 520.64) rotate(-90)" text-anchor="middle" class="dl">1,069</text>
<text transform="translate(616.8 541.87) rotate(-90)" text-anchor="middle" class="dl">1,423</text>
<text transform="translate(616.8 492.82) rotate(-90)" text-anchor="middle" class="dl">2,011</text>
<text transform="translate(622.04 544.57) rotate(-90)" text-anchor="middle" class="dl">1,234</text>
<text transform="translate(622.04 516.99) rotate(-90)" text-anchor="middle" class="dl">697</text>
<text transform="translate(627.28 548.4) rotate(-90)" text-anchor="middle" class="dl">966</text>
<text transform="translate(627.28 518.53) rotate(-90)" text-anchor="middle" class="dl">1,125</text>
<text transform="translate(632.52 542.53) rotate(-90)" text-anchor="middle" class="dl">1,377</text>
<text transform="translate(632.52 499.19) rotate(-90)" text-anchor="middle" class="dl">1,657</text>
<text transform="translate(637.76 556.4) rotate(-90)" text-anchor="middle" class="dl">406</text>
<text transform="translate(637.76 543.67) rotate(-90)" text-anchor="middle" class="dl">485</text>
<text transform="translate(643 558.04) rotate(-90)" text-anchor="middle" class="dl">291</text>
<text transform="translate(643 549.39) rotate(-90)" text-anchor="middle" class="dl">315</text>
<text transform="translate(648.24 523.92) rotate(-90)" text-anchor="middle" class="dl">2,680</text>
<text transform="translate(648.24 472.98) rotate(-90)" text-anchor="middle" class="dl">886</text>
<text transform="translate(653.48 549.47) rotate(-90)" text-anchor="middle" class="dl">891</text>
<text transform="translate(653.48 521.39) rotate(-90)" text-anchor="middle" class="dl">1,075</text>
<text transform="translate(658.72 544.97) rotate(-90)" text-anchor="middle" class="dl">1,206</text>
<text transform="translate(658.72 498.36) rotate(-90)" text-anchor="middle" class="dl">2,057</text>
<text transform="translate(663.96 545.54) rotate(-90)" text-anchor="middle" class="dl">1,166</text>
<text transform="translate(663.96 508.97) rotate(-90)" text-anchor="middle" class="dl">1,394</text>
<text transform="translate(669.2 552.33) rotate(-90)" text-anchor="middle" class="dl">691</text>
<text transform="translate(669.2 525.56) rotate(-90)" text-anchor="middle" class="dl">1,183</text>
<text transform="translate(674.44 557.63) rotate(-90)" text-anchor="middle" class="dl">320</text>
<text transform="translate(674.44 552.77) rotate(-90)" text-anchor="middle" class="dl">20</text>
<text transform="translate(679.68 549.47) rotate(-90)" text-anchor="middle" class="dl">891</text>
<text transform="translate(679.68 497.39) rotate(-90)" text-anchor="middle" class="dl">2,755</text>
<text transform="translate(684.92 542.53) rotate(-90)" text-anchor="middle" class="dl">1,377</text>
<text transform="translate(684.92 475.68) rotate(-90)" text-anchor="middle" class="dl">3,303</text>
<text transform="translate(690.16 545.96) rotate(-90)" text-anchor="middle" class="dl">1,137</text>
<text transform="translate(690.16 526.69) rotate(-90)" text-anchor="middle" class="dl">212</text>
<text transform="translate(695.4 548) rotate(-90)" text-anchor="middle" class="dl">994</text>
<text transform="translate(695.4 514.86) rotate(-90)" text-anchor="middle" class="dl">1,326</text>
<text transform="translate(700.64 551.91) rotate(-90)" text-anchor="middle" class="dl">720</text>
<text transform="translate(700.64 532.24) rotate(-90)" text-anchor="middle" class="dl">657</text>
<text transform="translate(705.88 537.87) rotate(-90)" text-anchor="middle" class="dl">1,703</text>
<text transform="translate(705.88 481.88) rotate(-90)" text-anchor="middle" class="dl">2,217</text>
<text transform="translate(711.12 558.63) rotate(-90)" text-anchor="middle" class="dl">250</text>
<text transform="translate(711.12 550.63) rotate(-90)" text-anchor="middle" class="dl">310</text>
<text transform="translate(716.36 556.4) rotate(-90)" text-anchor="middle" class="dl">406</text>
<text transform="translate(716.36 533.46) rotate(-90)" text-anchor="middle" class="dl">1,200</text>
<text transform="translate(721.6 551.5) rotate(-90)" text-anchor="middle" class="dl">749</text>
<text transform="translate(721.6 519.99) rotate(-90)" text-anchor="middle" class="dl">1,457</text>
<text transform="translate(726.84 554.93) rotate(-90)" text-anchor="middle" class="dl">509</text>
<text transform="translate(726.84 535.83) rotate(-90)" text-anchor="middle" class="dl">828</text>
<text transform="translate(732.08 541.47) rotate(-90)" text-anchor="middle" class="dl">1,451</text>
<text transform="translate(732.08 473.89) rotate(-90)" text-anchor="middle" class="dl">3,280</text>
<text transform="translate(737.32 545.39) rotate(-90)" text-anchor="middle" class="dl">1,177</text>
<text transform="translate(737.32 506.69) rotate(-90)" text-anchor="middle" class="dl">1,532</text>
<text transform="translate(742.56 552.97) rotate(-90)" text-anchor="middle" class="dl">646</text>
<text transform="translate(742.56 531.67) rotate(-90)" text-anchor="middle" class="dl">845</text>
<text transform="translate(747.8 556.81) rotate(-90)" text-anchor="middle" class="dl">377</text>
<text transform="translate(747.8 544.9) rotate(-90)" text-anchor="middle" class="dl">457</text>
<text transform="translate(753.04 553.54) rotate(-90)" text-anchor="middle" class="dl">606</text>
<text transform="translate(753.04 524.49) rotate(-90)" text-anchor="middle" class="dl">1,428</text>
<text transform="translate(758.28 547.83) rotate(-90)" text-anchor="middle" class="dl">1,006</text>
<text transform="translate(758.28 504.49) rotate(-90)" text-anchor="middle" class="dl">2,028</text>
<text transform="translate(763.52 548.81) rotate(-90)" text-anchor="middle" class="dl">937</text>
<text transform="translate(763.52 506.69) rotate(-90)" text-anchor="middle" class="dl">2,012</text>
<text transform="translate(768.76 547.83) rotate(-90)" text-anchor="middle" class="dl">1,006</text>
<text transform="translate(768.76 507.75) rotate(-90)" text-anchor="middle" class="dl">1,800</text>
<text transform="translate(774 550.93) rotate(-90)" text-anchor="middle" class="dl">789</text>
<text transform="translate(774 512.23) rotate(-90)" text-anchor="middle" class="dl">1,920</text>
<text transform="translate(779.24 551.34) rotate(-90)" text-anchor="middle" class="dl">760</text>
<text transform="translate(779.24 526.2) rotate(-90)" text-anchor="middle" class="dl">1,000</text>
<text transform="translate(784.48 558.44) rotate(-90)" text-anchor="middle" class="dl">263</text>
<text transform="translate(784.48 547.34) rotate(-90)" text-anchor="middle" class="dl">514</text>
<text transform="translate(789.72 560.06) rotate(-90)" text-anchor="middle" class="dl">150</text>
<text transform="translate(789.72 552.47) rotate(-90)" text-anchor="middle" class="dl">381</text>
<text transform="translate(794.96 550.29) rotate(-90)" text-anchor="middle" class="dl">834</text>
<text transform="translate(794.96 520.66) rotate(-90)" text-anchor="middle" class="dl">1,240</text>
<text transform="translate(800.2 550.29) rotate(-90)" text-anchor="middle" class="dl">834</text>
<text transform="translate(800.2 518.2) rotate(-90)" text-anchor="middle" class="dl">1,412</text>
<text transform="translate(805.44 552.49) rotate(-90)" text-anchor="middle" class="dl">680</text>
<text transform="translate(805.44 523.43) rotate(-90)" text-anchor="middle" class="dl">1,354</text>
<text transform="translate(810.68 550.93) rotate(-90)" text-anchor="middle" class="dl">789</text>
<text transform="translate(810.68 527.74) rotate(-90)" text-anchor="middle" class="dl">834</text>
<text transform="translate(815.92 554.36) rotate(-90)" text-anchor="middle" class="dl">549</text>
<text transform="translate(815.92 538.6) rotate(-90)" text-anchor="middle" class="dl">554</text>
<text transform="translate(821.16 554.93) rotate(-90)" text-anchor="middle" class="dl">509</text>
<text transform="translate(821.16 529.94) rotate(-90)" text-anchor="middle" class="dl">1,240</text>
<text transform="translate(826.4 559.26) rotate(-90)" text-anchor="middle" class="dl">206</text>
<text transform="translate(826.4 551.67) rotate(-90)" text-anchor="middle" class="dl">325</text>
<text transform="translate(831.64 549.87) rotate(-90)" text-anchor="middle" class="dl">863</text>
<text transform="translate(831.64 515.1) rotate(-90)" text-anchor="middle" class="dl">1,571</text>
<text transform="translate(836.88 551.46) rotate(-90)" text-anchor="middle" class="dl">752</text>
<text transform="translate(836.88 512.35) rotate(-90)" text-anchor="middle" class="dl">1,986</text>
<text transform="translate(842.12 550.34) rotate(-90)" text-anchor="middle" class="dl">830</text>
<text transform="translate(842.12 517.07) rotate(-90)" text-anchor="middle" class="dl">1,499</text>
<text transform="translate(847.36 548.5) rotate(-90)" text-anchor="middle" class="dl">959</text>
<text transform="translate(847.36 518.26) rotate(-90)" text-anchor="middle" class="dl">1,158</text>
<text transform="translate(852.6 555.4) rotate(-90)" text-anchor="middle" class="dl">476</text>
<text transform="translate(852.6 539.07) rotate(-90)" text-anchor="middle" class="dl">667</text>
<text transform="translate(857.84 552.44) rotate(-90)" text-anchor="middle" class="dl">683</text>
<text transform="translate(857.84 522.2) rotate(-90)" text-anchor="middle" class="dl">1,434</text>
<text transform="translate(863.08 558.34) rotate(-90)" text-anchor="middle" class="dl">270</text>
<text transform="translate(863.08 550.91) rotate(-90)" text-anchor="middle" class="dl">250</text>
<text transform="translate(868.32 553.77) rotate(-90)" text-anchor="middle" class="dl">590</text>
<text transform="translate(868.32 516.89) rotate(-90)" text-anchor="middle" class="dl">1,992</text>
<rect x="449.8" y="594.7" width="4.2" height="4.2" fill="#4a8fd3"/>
<text x="455.3" y="598.4" class="lg" textLength="139" lengthAdjust="spacingAndGlyphs">Teste rápido Reagente ( casos ocorridos há mais de 8 dias)</text>
<rect x="699.3" y="594.7" width="3.9" height="4.2" fill="#bdd7ee"/>
<text x="704" y="598.4" class="lg" textLength="63.3" lengthAdjust="spacingAndGlyphs">Teste rápido Não reagente</text>
</svg>
</body></html>
